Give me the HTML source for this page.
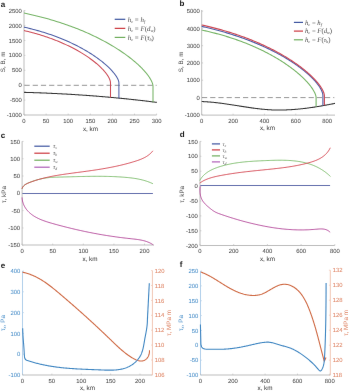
<!DOCTYPE html>
<html><head><meta charset="utf-8"><style>
html,body{margin:0;padding:0;background:#fff;overflow:hidden;}
svg{display:block;will-change:transform;text-rendering:geometricPrecision;font-family:"Liberation Sans",sans-serif;}
</style></head><body>
<svg width="350" height="391" viewBox="0 0 350 391">
<defs><filter id="bl" x="-5%" y="-5%" width="110%" height="110%"><feConvolveMatrix order="3" kernelMatrix="0.00087 0.02776 0.00087 0.02776 0.88549 0.02776 0.00087 0.02776 0.00087" edgeMode="none" preserveAlpha="false"/></filter></defs>
<rect width="350" height="391" fill="#fff"/>
<g filter="url(#bl)" stroke-linecap="butt">
<text x="0.80" y="6.50" font-size="8.0" font-weight="bold" fill="#1a1a1a">a</text>
<line x1="24.00" y1="10.40" x2="24.00" y2="115.00" stroke="#bdbdbd" stroke-width="1.00"/>
<line x1="24.00" y1="115.00" x2="156.60" y2="115.00" stroke="#bdbdbd" stroke-width="1.00"/>
<line x1="24.00" y1="10.62" x2="25.40" y2="10.62" stroke="#bdbdbd" stroke-width="0.70"/>
<text x="21.90" y="12.72" text-anchor="end" font-size="5.90" fill="#484848" stroke="#484848" stroke-width="0.05" >2500</text>
<line x1="24.00" y1="25.54" x2="25.40" y2="25.54" stroke="#bdbdbd" stroke-width="0.70"/>
<text x="21.90" y="27.64" text-anchor="end" font-size="5.90" fill="#484848" stroke="#484848" stroke-width="0.05" >2000</text>
<line x1="24.00" y1="40.46" x2="25.40" y2="40.46" stroke="#bdbdbd" stroke-width="0.70"/>
<text x="21.90" y="42.56" text-anchor="end" font-size="5.90" fill="#484848" stroke="#484848" stroke-width="0.05" >1500</text>
<line x1="24.00" y1="55.37" x2="25.40" y2="55.37" stroke="#bdbdbd" stroke-width="0.70"/>
<text x="21.90" y="57.47" text-anchor="end" font-size="5.90" fill="#484848" stroke="#484848" stroke-width="0.05" >1000</text>
<line x1="24.00" y1="70.28" x2="25.40" y2="70.28" stroke="#bdbdbd" stroke-width="0.70"/>
<text x="21.90" y="72.38" text-anchor="end" font-size="5.90" fill="#484848" stroke="#484848" stroke-width="0.05" >500</text>
<line x1="24.00" y1="85.20" x2="25.40" y2="85.20" stroke="#bdbdbd" stroke-width="0.70"/>
<text x="21.90" y="87.30" text-anchor="end" font-size="5.90" fill="#484848" stroke="#484848" stroke-width="0.05" >0</text>
<line x1="24.00" y1="100.12" x2="25.40" y2="100.12" stroke="#bdbdbd" stroke-width="0.70"/>
<text x="21.90" y="102.22" text-anchor="end" font-size="5.90" fill="#484848" stroke="#484848" stroke-width="0.05" >-500</text>
<line x1="24.00" y1="115.03" x2="25.40" y2="115.03" stroke="#bdbdbd" stroke-width="0.70"/>
<text x="21.90" y="117.13" text-anchor="end" font-size="5.90" fill="#484848" stroke="#484848" stroke-width="0.05" >-1000</text>
<line x1="24.00" y1="113.60" x2="24.00" y2="115.00" stroke="#bdbdbd" stroke-width="0.70"/>
<text x="24.00" y="122.60" text-anchor="middle" font-size="5.90" fill="#484848" stroke="#484848" stroke-width="0.05" >0</text>
<line x1="46.11" y1="113.60" x2="46.11" y2="115.00" stroke="#bdbdbd" stroke-width="0.70"/>
<text x="46.11" y="122.60" text-anchor="middle" font-size="5.90" fill="#484848" stroke="#484848" stroke-width="0.05" >50</text>
<line x1="68.21" y1="113.60" x2="68.21" y2="115.00" stroke="#bdbdbd" stroke-width="0.70"/>
<text x="68.21" y="122.60" text-anchor="middle" font-size="5.90" fill="#484848" stroke="#484848" stroke-width="0.05" >100</text>
<line x1="90.31" y1="113.60" x2="90.31" y2="115.00" stroke="#bdbdbd" stroke-width="0.70"/>
<text x="90.31" y="122.60" text-anchor="middle" font-size="5.90" fill="#484848" stroke="#484848" stroke-width="0.05" >150</text>
<line x1="112.42" y1="113.60" x2="112.42" y2="115.00" stroke="#bdbdbd" stroke-width="0.70"/>
<text x="112.42" y="122.60" text-anchor="middle" font-size="5.90" fill="#484848" stroke="#484848" stroke-width="0.05" >200</text>
<line x1="134.52" y1="113.60" x2="134.52" y2="115.00" stroke="#bdbdbd" stroke-width="0.70"/>
<text x="134.52" y="122.60" text-anchor="middle" font-size="5.90" fill="#484848" stroke="#484848" stroke-width="0.05" >250</text>
<line x1="156.63" y1="113.60" x2="156.63" y2="115.00" stroke="#bdbdbd" stroke-width="0.70"/>
<text x="156.63" y="122.60" text-anchor="middle" font-size="5.90" fill="#484848" stroke="#484848" stroke-width="0.05" >300</text>
<text x="90.40" y="130.50" text-anchor="middle" font-size="6.30" fill="#484848" stroke="#484848" stroke-width="0.05" >x, km</text>
<text transform="translate(5.00,61.80) rotate(-90)" text-anchor="middle" font-size="6.30" fill="#484848">S, B, m</text>
<line x1="24.50" y1="85.30" x2="156.60" y2="85.30" stroke="#8a8a8a" stroke-width="0.90" stroke-dasharray="5.2 3"/>
<path d="M24.00,92.34 L24.84,92.36 L25.68,92.38 L26.53,92.41 L27.37,92.43 L28.21,92.46 L29.06,92.48 L29.90,92.51 L30.74,92.54 L31.58,92.56 L32.43,92.59 L33.27,92.62 L34.11,92.65 L34.96,92.68 L35.80,92.71 L36.64,92.74 L37.49,92.77 L38.33,92.80 L39.17,92.83 L40.01,92.86 L40.86,92.89 L41.70,92.93 L42.54,92.96 L43.38,92.99 L44.23,93.03 L45.07,93.06 L45.91,93.10 L46.76,93.13 L47.60,93.17 L48.44,93.21 L49.28,93.25 L50.13,93.28 L50.97,93.32 L51.81,93.36 L52.65,93.40 L53.49,93.44 L54.34,93.48 L55.18,93.52 L56.02,93.56 L56.86,93.60 L57.71,93.65 L58.55,93.69 L59.39,93.73 L60.23,93.77 L61.07,93.82 L61.92,93.86 L62.76,93.91 L63.60,93.95 L64.44,94.00 L65.28,94.05 L66.13,94.10 L66.97,94.14 L67.81,94.19 L68.65,94.24 L69.49,94.29 L70.33,94.34 L71.18,94.39 L72.02,94.44 L72.86,94.49 L73.70,94.54 L74.54,94.60 L75.38,94.65 L76.22,94.70 L77.07,94.76 L77.91,94.81 L78.75,94.87 L79.59,94.92 L80.43,94.98 L81.27,95.03 L82.11,95.09 L82.95,95.15 L83.80,95.21 L84.64,95.27 L85.48,95.33 L86.32,95.39 L87.16,95.45 L88.00,95.51 L88.84,95.57 L89.68,95.63 L90.52,95.69 L91.36,95.76 L92.20,95.82 L93.04,95.88 L93.89,95.95 L94.73,96.01 L95.57,96.08 L96.41,96.14 L97.25,96.21 L98.09,96.28 L98.93,96.35 L99.77,96.41 L100.61,96.48 L101.45,96.55 L102.29,96.62 L103.13,96.69 L103.97,96.76 L104.81,96.84 L105.65,96.91 L106.49,96.98 L107.33,97.05 L108.17,97.13 L109.01,97.20 L109.85,97.28 L110.69,97.35 L111.53,97.43 L112.37,97.51 L113.21,97.58 L114.05,97.66 L114.89,97.74 L115.72,97.82 L116.56,97.90 L117.40,97.98 L118.24,98.06 L119.08,98.14 L119.92,98.22 L120.76,98.30 L121.60,98.39 L122.44,98.47 L123.28,98.55 L124.12,98.64 L124.95,98.72 L125.79,98.81 L126.63,98.89 L127.47,98.98 L128.31,99.07 L129.15,99.16 L129.99,99.25 L130.83,99.33 L131.66,99.42 L132.50,99.51 L133.34,99.61 L134.18,99.70 L135.02,99.79 L135.86,99.88 L136.69,99.97 L137.53,100.07 L138.37,100.16 L139.21,100.26 L140.05,100.35 L140.88,100.45 L141.72,100.55 L142.56,100.64 L143.40,100.74 L144.23,100.84 L145.07,100.94 L145.91,101.04 L146.75,101.14 L147.58,101.24 L148.42,101.34 L149.26,101.44 L150.10,101.54 L150.93,101.65 L151.77,101.75 L152.61,101.86 L153.44,101.96 L154.28,102.07 L155.12,102.17 L155.96,102.28 L156.79,102.39" fill="none" stroke="#303030" stroke-width="1.05" stroke-linejoin="round"/>
<path d="M24.00,30.57 L25.45,30.91 L26.88,31.25 L28.31,31.60 L29.72,31.96 L31.12,32.32 L32.50,32.69 L33.88,33.06 L35.24,33.44 L36.59,33.83 L37.93,34.22 L39.25,34.61 L40.57,35.01 L41.87,35.42 L43.16,35.83 L44.43,36.24 L45.70,36.66 L46.95,37.09 L48.19,37.51 L49.42,37.95 L50.63,38.38 L51.84,38.82 L53.03,39.27 L54.21,39.72 L55.37,40.17 L56.53,40.63 L57.67,41.08 L58.80,41.55 L59.92,42.01 L61.02,42.48 L62.12,42.95 L63.20,43.43 L64.27,43.91 L65.32,44.39 L66.37,44.87 L67.40,45.36 L68.42,45.84 L69.43,46.33 L70.42,46.82 L71.41,47.32 L72.38,47.81 L73.34,48.31 L74.28,48.81 L75.22,49.31 L76.14,49.81 L77.05,50.32 L77.95,50.82 L78.83,51.33 L79.71,51.83 L80.57,52.34 L81.42,52.85 L82.26,53.36 L83.08,53.87 L83.89,54.37 L84.69,54.88 L85.48,55.39 L86.26,55.90 L87.02,56.41 L87.77,56.92 L88.51,57.43 L89.24,57.94 L89.95,58.45 L90.65,58.96 L91.34,59.46 L92.02,59.97 L92.69,60.47 L93.34,60.98 L93.98,61.48 L94.61,61.98 L95.23,62.48 L95.83,62.98 L96.43,63.47 L97.01,63.97 L97.57,64.46 L98.13,64.95 L98.67,65.44 L99.21,65.92 L99.72,66.41 L100.23,66.89 L100.73,67.36 L101.21,67.84 L101.68,68.31 L102.14,68.78 L102.58,69.25 L103.02,69.71 L103.44,70.17 L103.85,70.63 L104.25,71.08 L104.63,71.53 L105.00,71.97 L105.36,72.42 L105.71,72.85 L106.05,73.29 L106.37,73.72 L106.68,74.14 L106.98,74.56 L107.27,74.98 L107.54,75.39 L107.81,75.79 L108.06,76.19 L108.29,76.59 L108.52,76.98 L108.73,77.37 L108.94,77.75 L109.13,78.12 L109.30,78.49 L109.47,78.85 L109.62,79.21 L109.76,79.56 L109.89,79.91 L110.01,80.25 L110.11,80.58 L110.20,80.91 L110.28,81.23 L110.35,81.54 L110.40,81.84 L110.45,82.14 L110.48,82.44 L110.49,82.72 L110.50,83.00 L110.50,97.40" fill="none" stroke="#cc4a55" stroke-width="1.05" stroke-linejoin="round" />
<path d="M24.00,27.13 L25.59,27.50 L27.16,27.86 L28.72,28.24 L30.27,28.62 L31.81,29.01 L33.33,29.40 L34.84,29.80 L36.33,30.21 L37.81,30.63 L39.28,31.05 L40.73,31.47 L42.17,31.90 L43.60,32.34 L45.02,32.79 L46.42,33.23 L47.80,33.69 L49.18,34.15 L50.54,34.61 L51.88,35.08 L53.22,35.55 L54.54,36.03 L55.85,36.52 L57.14,37.00 L58.42,37.49 L59.69,37.99 L60.94,38.49 L62.18,38.99 L63.40,39.50 L64.62,40.01 L65.82,40.52 L67.00,41.04 L68.18,41.56 L69.34,42.08 L70.48,42.61 L71.61,43.14 L72.73,43.67 L73.84,44.20 L74.93,44.74 L76.01,45.27 L77.08,45.81 L78.13,46.36 L79.17,46.90 L80.19,47.44 L81.20,47.99 L82.20,48.54 L83.19,49.09 L84.16,49.64 L85.12,50.19 L86.06,50.74 L86.99,51.29 L87.91,51.84 L88.82,52.40 L89.71,52.95 L90.59,53.50 L91.45,54.06 L92.30,54.61 L93.14,55.16 L93.96,55.71 L94.77,56.26 L95.57,56.82 L96.36,57.37 L97.13,57.91 L97.88,58.46 L98.63,59.01 L99.36,59.55 L100.08,60.10 L100.78,60.64 L101.47,61.18 L102.15,61.71 L102.81,62.25 L103.46,62.78 L104.10,63.31 L104.72,63.84 L105.33,64.37 L105.93,64.89 L106.51,65.41 L107.08,65.93 L107.63,66.44 L108.18,66.95 L108.71,67.46 L109.22,67.96 L109.73,68.46 L110.21,68.95 L110.69,69.44 L111.15,69.93 L111.60,70.41 L112.04,70.89 L112.46,71.36 L112.87,71.83 L113.26,72.30 L113.65,72.76 L114.01,73.21 L114.37,73.66 L114.71,74.10 L115.04,74.54 L115.35,74.97 L115.66,75.39 L115.94,75.81 L116.22,76.23 L116.48,76.64 L116.73,77.04 L116.96,77.43 L117.18,77.82 L117.39,78.20 L117.59,78.57 L117.77,78.94 L117.93,79.30 L118.09,79.65 L118.23,80.00 L118.36,80.33 L118.47,80.66 L118.57,80.98 L118.66,81.30 L118.73,81.60 L118.79,81.90 L118.84,82.19 L118.87,82.47 L118.89,82.74 L118.90,83.00 L118.90,98.30" fill="none" stroke="#4d5fa6" stroke-width="1.05" stroke-linejoin="round" />
<path d="M24.00,13.07 L26.16,13.52 L28.30,13.98 L30.42,14.45 L32.53,14.93 L34.61,15.42 L36.68,15.92 L38.73,16.43 L40.76,16.94 L42.77,17.47 L44.77,18.00 L46.75,18.55 L48.71,19.10 L50.65,19.65 L52.57,20.22 L54.47,20.79 L56.36,21.38 L58.22,21.96 L60.07,22.56 L61.90,23.16 L63.72,23.77 L65.51,24.39 L67.29,25.01 L69.05,25.64 L70.79,26.27 L72.51,26.91 L74.21,27.55 L75.90,28.20 L77.56,28.86 L79.21,29.52 L80.84,30.19 L82.46,30.86 L84.05,31.53 L85.63,32.21 L87.18,32.89 L88.72,33.58 L90.24,34.27 L91.75,34.97 L93.23,35.66 L94.70,36.37 L96.15,37.07 L97.58,37.78 L98.99,38.49 L100.38,39.20 L101.76,39.91 L103.12,40.63 L104.46,41.35 L105.78,42.07 L107.08,42.79 L108.36,43.51 L109.63,44.23 L110.88,44.96 L112.11,45.68 L113.32,46.41 L114.51,47.14 L115.69,47.86 L116.84,48.59 L117.98,49.32 L119.10,50.05 L120.21,50.77 L121.29,51.50 L122.36,52.22 L123.40,52.95 L124.43,53.67 L125.44,54.39 L126.44,55.11 L127.41,55.83 L128.37,56.54 L129.31,57.26 L130.23,57.97 L131.13,58.68 L132.01,59.38 L132.88,60.08 L133.72,60.78 L134.55,61.48 L135.36,62.17 L136.16,62.86 L136.93,63.55 L137.69,64.23 L138.42,64.91 L139.14,65.58 L139.85,66.25 L140.53,66.92 L141.19,67.58 L141.84,68.23 L142.47,68.88 L143.08,69.52 L143.67,70.16 L144.25,70.79 L144.80,71.42 L145.34,72.04 L145.86,72.65 L146.36,73.26 L146.84,73.86 L147.31,74.45 L147.75,75.04 L148.18,75.62 L148.59,76.19 L148.98,76.75 L149.36,77.31 L149.71,77.86 L150.05,78.40 L150.37,78.93 L150.67,79.45 L150.95,79.97 L151.21,80.47 L151.46,80.97 L151.69,81.45 L151.90,81.93 L152.09,82.40 L152.26,82.86 L152.42,83.30 L152.55,83.74 L152.67,84.17 L152.77,84.58 L152.85,84.99 L152.92,85.38 L152.96,85.77 L152.99,86.14 L153.00,86.50 L153.00,102.20" fill="none" stroke="#76b466" stroke-width="1.05" stroke-linejoin="round" />
<line x1="114.70" y1="19.30" x2="125.30" y2="19.30" stroke="#3f55a0" stroke-width="1.20"/>
<text x="127.8" y="21.50" font-family="Liberation Serif, serif" font-size="6.9" fill="#4a4a4a"><tspan font-style="italic">h</tspan><tspan font-size="4.2" dy="1.1" font-style="italic">c</tspan><tspan dy="-1.1"> = </tspan><tspan font-style="italic">h</tspan><tspan font-size="4.2" dy="1.1" font-style="italic">f</tspan></text>
<line x1="114.70" y1="28.35" x2="125.30" y2="28.35" stroke="#cc3a40" stroke-width="1.20"/>
<text x="127.8" y="30.55" font-family="Liberation Serif, serif" font-size="6.9" fill="#4a4a4a"><tspan font-style="italic">h</tspan><tspan font-size="4.2" dy="1.1" font-style="italic">c</tspan><tspan dy="-1.1"> = </tspan><tspan font-style="italic">F</tspan>(<tspan font-style="italic">d</tspan><tspan font-size="4.2" dy="1.1" font-style="italic">w</tspan><tspan dy="-1.1">)</tspan></text>
<line x1="114.70" y1="37.40" x2="125.30" y2="37.40" stroke="#6fae5c" stroke-width="1.20"/>
<text x="127.8" y="39.60" font-family="Liberation Serif, serif" font-size="6.9" fill="#4a4a4a"><tspan font-style="italic">h</tspan><tspan font-size="4.2" dy="1.1" font-style="italic">c</tspan><tspan dy="-1.1"> = </tspan><tspan font-style="italic">F</tspan>(<tspan font-style="italic">τ</tspan><tspan font-size="4.2" dy="1.1" font-style="italic">b</tspan><tspan dy="-1.1">)</tspan></text>
<text x="179.60" y="6.00" font-size="8.0" font-weight="bold" fill="#1a1a1a">b</text>
<line x1="201.70" y1="10.00" x2="201.70" y2="115.10" stroke="#bdbdbd" stroke-width="1.00"/>
<line x1="201.70" y1="115.10" x2="335.00" y2="115.10" stroke="#bdbdbd" stroke-width="1.00"/>
<line x1="201.70" y1="11.15" x2="203.10" y2="11.15" stroke="#bdbdbd" stroke-width="0.70"/>
<text x="199.80" y="13.25" text-anchor="end" font-size="5.90" fill="#484848" stroke="#484848" stroke-width="0.05" >5000</text>
<line x1="201.70" y1="28.42" x2="203.10" y2="28.42" stroke="#bdbdbd" stroke-width="0.70"/>
<text x="199.80" y="30.52" text-anchor="end" font-size="5.90" fill="#484848" stroke="#484848" stroke-width="0.05" >4000</text>
<line x1="201.70" y1="45.69" x2="203.10" y2="45.69" stroke="#bdbdbd" stroke-width="0.70"/>
<text x="199.80" y="47.79" text-anchor="end" font-size="5.90" fill="#484848" stroke="#484848" stroke-width="0.05" >3000</text>
<line x1="201.70" y1="62.96" x2="203.10" y2="62.96" stroke="#bdbdbd" stroke-width="0.70"/>
<text x="199.80" y="65.06" text-anchor="end" font-size="5.90" fill="#484848" stroke="#484848" stroke-width="0.05" >2000</text>
<line x1="201.70" y1="80.23" x2="203.10" y2="80.23" stroke="#bdbdbd" stroke-width="0.70"/>
<text x="199.80" y="82.33" text-anchor="end" font-size="5.90" fill="#484848" stroke="#484848" stroke-width="0.05" >1000</text>
<line x1="201.70" y1="97.50" x2="203.10" y2="97.50" stroke="#bdbdbd" stroke-width="0.70"/>
<text x="199.80" y="99.60" text-anchor="end" font-size="5.90" fill="#484848" stroke="#484848" stroke-width="0.05" >0</text>
<line x1="201.70" y1="114.77" x2="203.10" y2="114.77" stroke="#bdbdbd" stroke-width="0.70"/>
<text x="199.80" y="116.87" text-anchor="end" font-size="5.90" fill="#484848" stroke="#484848" stroke-width="0.05" >-1000</text>
<line x1="201.70" y1="113.70" x2="201.70" y2="115.10" stroke="#bdbdbd" stroke-width="0.70"/>
<text x="201.70" y="122.90" text-anchor="middle" font-size="5.90" fill="#484848" stroke="#484848" stroke-width="0.05" >0</text>
<line x1="233.06" y1="113.70" x2="233.06" y2="115.10" stroke="#bdbdbd" stroke-width="0.70"/>
<text x="233.06" y="122.90" text-anchor="middle" font-size="5.90" fill="#484848" stroke="#484848" stroke-width="0.05" >200</text>
<line x1="264.42" y1="113.70" x2="264.42" y2="115.10" stroke="#bdbdbd" stroke-width="0.70"/>
<text x="264.42" y="122.90" text-anchor="middle" font-size="5.90" fill="#484848" stroke="#484848" stroke-width="0.05" >400</text>
<line x1="295.78" y1="113.70" x2="295.78" y2="115.10" stroke="#bdbdbd" stroke-width="0.70"/>
<text x="295.78" y="122.90" text-anchor="middle" font-size="5.90" fill="#484848" stroke="#484848" stroke-width="0.05" >600</text>
<line x1="327.14" y1="113.70" x2="327.14" y2="115.10" stroke="#bdbdbd" stroke-width="0.70"/>
<text x="327.14" y="122.90" text-anchor="middle" font-size="5.90" fill="#484848" stroke="#484848" stroke-width="0.05" >800</text>
<text x="267.50" y="130.30" text-anchor="middle" font-size="6.30" fill="#484848" stroke="#484848" stroke-width="0.05" >x, km</text>
<text transform="translate(182.60,61.80) rotate(-90)" text-anchor="middle" font-size="6.30" fill="#484848">S, B, m</text>
<line x1="202.00" y1="97.60" x2="334.30" y2="97.60" stroke="#8a8a8a" stroke-width="0.90" stroke-dasharray="5.2 3"/>
<path d="M201.73,101.58 L202.56,101.60 L203.40,101.63 L204.23,101.67 L205.07,101.71 L205.90,101.76 L206.74,101.81 L207.58,101.86 L208.41,101.92 L209.24,101.98 L210.08,102.05 L210.91,102.12 L211.75,102.19 L212.58,102.27 L213.42,102.35 L214.25,102.44 L215.08,102.52 L215.92,102.61 L216.75,102.71 L217.58,102.80 L218.42,102.90 L219.25,103.01 L220.08,103.11 L220.92,103.22 L221.75,103.33 L222.58,103.44 L223.41,103.56 L224.25,103.67 L225.08,103.79 L225.91,103.91 L226.74,104.03 L227.58,104.15 L228.41,104.28 L229.24,104.40 L230.07,104.53 L230.90,104.66 L231.74,104.79 L232.57,104.92 L233.40,105.05 L234.23,105.18 L235.06,105.31 L235.89,105.44 L236.73,105.58 L237.56,105.71 L238.39,105.84 L239.22,105.97 L240.05,106.11 L240.88,106.24 L241.71,106.37 L242.55,106.50 L243.38,106.63 L244.21,106.76 L245.04,106.89 L245.87,107.02 L246.70,107.14 L247.54,107.27 L248.37,107.39 L249.20,107.52 L250.03,107.64 L250.86,107.76 L251.69,107.88 L252.53,107.99 L253.36,108.11 L254.19,108.22 L255.02,108.33 L255.85,108.43 L256.69,108.54 L257.52,108.64 L258.35,108.74 L259.18,108.84 L260.02,108.93 L260.85,109.02 L261.68,109.11 L262.51,109.19 L263.35,109.27 L264.18,109.35 L265.01,109.42 L265.85,109.49 L266.68,109.56 L267.51,109.62 L268.35,109.68 L269.18,109.73 L270.01,109.78 L270.85,109.82 L271.68,109.87 L272.52,109.90 L273.35,109.93 L274.19,109.96 L275.02,109.98 L275.86,110.00 L276.69,110.02 L277.53,110.03 L278.36,110.03 L279.20,110.04 L280.03,110.04 L280.87,110.03 L281.70,110.02 L282.54,110.01 L283.37,109.99 L284.21,109.97 L285.05,109.95 L285.88,109.92 L286.72,109.89 L287.55,109.85 L288.39,109.82 L289.22,109.77 L290.06,109.73 L290.90,109.68 L291.73,109.63 L292.57,109.57 L293.40,109.51 L294.24,109.45 L295.07,109.39 L295.91,109.32 L296.74,109.25 L297.58,109.17 L298.42,109.09 L299.25,109.01 L300.09,108.93 L300.92,108.84 L301.76,108.75 L302.59,108.66 L303.43,108.57 L304.26,108.47 L305.09,108.37 L305.93,108.27 L306.76,108.16 L307.60,108.06 L308.43,107.95 L309.26,107.83 L310.10,107.72 L310.93,107.60 L311.77,107.48 L312.60,107.36 L313.43,107.24 L314.26,107.11 L315.10,106.98 L315.93,106.85 L316.76,106.72 L317.59,106.58 L318.42,106.45 L319.26,106.31 L320.09,106.17 L320.92,106.03 L321.75,105.88 L322.58,105.74 L323.41,105.59 L324.24,105.44 L325.07,105.29 L325.90,105.14 L326.73,104.98 L327.56,104.83 L328.38,104.67 L329.21,104.51 L330.04,104.35 L330.87,104.19 L331.70,104.03 L332.52,103.87 L333.35,103.70 L334.17,103.54 L335.00,103.37" fill="none" stroke="#303030" stroke-width="1.05" stroke-linejoin="round"/>
<path d="M201.70,30.05 L203.61,30.46 L205.51,30.89 L207.40,31.32 L209.26,31.75 L211.11,32.20 L212.95,32.66 L214.76,33.12 L216.56,33.60 L218.35,34.08 L220.12,34.57 L221.87,35.07 L223.61,35.57 L225.33,36.09 L227.03,36.61 L228.72,37.14 L230.39,37.67 L232.05,38.21 L233.69,38.76 L235.31,39.31 L236.92,39.88 L238.51,40.44 L240.09,41.02 L241.65,41.59 L243.19,42.18 L244.72,42.77 L246.23,43.36 L247.72,43.96 L249.20,44.57 L250.66,45.18 L252.11,45.79 L253.54,46.41 L254.95,47.04 L256.35,47.66 L257.73,48.30 L259.10,48.93 L260.45,49.57 L261.78,50.21 L263.10,50.86 L264.40,51.50 L265.68,52.16 L266.95,52.81 L268.20,53.47 L269.44,54.12 L270.66,54.79 L271.86,55.45 L273.05,56.11 L274.22,56.78 L275.38,57.45 L276.52,58.12 L277.64,58.79 L278.74,59.46 L279.84,60.13 L280.91,60.80 L281.97,61.47 L283.01,62.15 L284.04,62.82 L285.05,63.50 L286.04,64.17 L287.02,64.84 L287.98,65.51 L288.92,66.18 L289.85,66.85 L290.77,67.52 L291.66,68.19 L292.54,68.86 L293.41,69.52 L294.26,70.19 L295.09,70.85 L295.90,71.51 L296.70,72.16 L297.49,72.82 L298.25,73.47 L299.01,74.12 L299.74,74.76 L300.46,75.41 L301.16,76.04 L301.85,76.68 L302.52,77.31 L303.17,77.94 L303.81,78.56 L304.43,79.18 L305.04,79.80 L305.63,80.41 L306.20,81.02 L306.76,81.62 L307.30,82.21 L307.83,82.80 L308.34,83.39 L308.83,83.97 L309.31,84.54 L309.77,85.11 L310.21,85.67 L310.64,86.23 L311.05,86.78 L311.45,87.32 L311.83,87.86 L312.19,88.38 L312.54,88.91 L312.87,89.42 L313.18,89.93 L313.48,90.43 L313.77,90.92 L314.03,91.40 L314.28,91.88 L314.52,92.34 L314.73,92.80 L314.94,93.25 L315.12,93.69 L315.29,94.12 L315.45,94.54 L315.58,94.96 L315.70,95.36 L315.81,95.75 L315.90,96.14 L315.97,96.51 L316.03,96.87 L316.07,97.23 L316.09,97.57 L316.10,97.90 L316.10,106.40" fill="none" stroke="#76b466" stroke-width="1.10" stroke-linejoin="round" />
<path d="M201.70,26.40 L203.73,26.85 L205.74,27.31 L207.73,27.78 L209.71,28.25 L211.67,28.74 L213.61,29.23 L215.54,29.73 L217.45,30.23 L219.34,30.74 L221.21,31.26 L223.07,31.79 L224.91,32.32 L226.73,32.86 L228.54,33.40 L230.33,33.96 L232.10,34.51 L233.86,35.08 L235.59,35.65 L237.31,36.22 L239.02,36.80 L240.70,37.38 L242.37,37.97 L244.02,38.57 L245.66,39.17 L247.28,39.77 L248.88,40.38 L250.46,41.00 L252.03,41.61 L253.57,42.24 L255.11,42.86 L256.62,43.49 L258.12,44.12 L259.60,44.76 L261.06,45.40 L262.51,46.04 L263.94,46.69 L265.35,47.33 L266.75,47.99 L268.12,48.64 L269.49,49.29 L270.83,49.95 L272.16,50.61 L273.46,51.28 L274.76,51.94 L276.03,52.60 L277.29,53.27 L278.53,53.94 L279.76,54.61 L280.96,55.28 L282.15,55.95 L283.32,56.62 L284.48,57.30 L285.62,57.97 L286.74,58.64 L287.84,59.32 L288.93,59.99 L290.00,60.66 L291.05,61.34 L292.09,62.01 L293.11,62.68 L294.11,63.35 L295.09,64.02 L296.06,64.69 L297.01,65.36 L297.94,66.03 L298.86,66.69 L299.76,67.36 L300.64,68.02 L301.50,68.68 L302.35,69.33 L303.18,69.99 L303.99,70.64 L304.79,71.29 L305.57,71.94 L306.33,72.58 L307.07,73.22 L307.80,73.86 L308.51,74.50 L309.21,75.13 L309.88,75.76 L310.54,76.38 L311.18,77.00 L311.81,77.62 L312.42,78.23 L313.01,78.84 L313.58,79.44 L314.14,80.04 L314.68,80.63 L315.20,81.22 L315.70,81.80 L316.19,82.38 L316.66,82.95 L317.11,83.52 L317.55,84.08 L317.97,84.63 L318.37,85.18 L318.76,85.73 L319.13,86.26 L319.48,86.79 L319.81,87.32 L320.13,87.83 L320.43,88.34 L320.71,88.85 L320.97,89.34 L321.22,89.83 L321.45,90.31 L321.67,90.78 L321.86,91.25 L322.04,91.70 L322.21,92.15 L322.35,92.59 L322.48,93.03 L322.59,93.45 L322.69,93.86 L322.76,94.27 L322.82,94.67 L322.87,95.05 L322.89,95.43 L322.90,95.80 L322.90,105.40" fill="none" stroke="#4d5fa6" stroke-width="1.15" stroke-linejoin="round" />
<path d="M201.70,24.96 L203.75,25.42 L205.79,25.88 L207.81,26.35 L209.81,26.83 L211.79,27.32 L213.76,27.82 L215.71,28.33 L217.64,28.84 L219.56,29.36 L221.46,29.89 L223.34,30.43 L225.20,30.98 L227.04,31.53 L228.87,32.09 L230.68,32.65 L232.48,33.22 L234.25,33.80 L236.01,34.39 L237.75,34.98 L239.48,35.58 L241.18,36.18 L242.87,36.79 L244.55,37.40 L246.20,38.02 L247.84,38.65 L249.46,39.28 L251.06,39.91 L252.65,40.55 L254.22,41.19 L255.77,41.84 L257.30,42.49 L258.82,43.15 L260.32,43.81 L261.80,44.47 L263.26,45.13 L264.71,45.80 L266.14,46.48 L267.55,47.15 L268.95,47.83 L270.32,48.51 L271.68,49.20 L273.03,49.88 L274.35,50.57 L275.66,51.26 L276.95,51.95 L278.23,52.64 L279.48,53.34 L280.72,54.03 L281.94,54.73 L283.15,55.43 L284.33,56.13 L285.50,56.82 L286.66,57.52 L287.79,58.22 L288.91,58.92 L290.01,59.62 L291.09,60.32 L292.16,61.02 L293.21,61.72 L294.24,62.42 L295.25,63.11 L296.25,63.81 L297.23,64.50 L298.19,65.19 L299.13,65.88 L300.06,66.57 L300.97,67.26 L301.86,67.95 L302.74,68.63 L303.60,69.31 L304.44,69.99 L305.26,70.66 L306.07,71.33 L306.85,72.00 L307.63,72.67 L308.38,73.33 L309.12,73.99 L309.83,74.64 L310.54,75.29 L311.22,75.94 L311.89,76.58 L312.54,77.22 L313.17,77.85 L313.79,78.48 L314.38,79.10 L314.96,79.72 L315.53,80.33 L316.07,80.94 L316.60,81.54 L317.11,82.13 L317.61,82.72 L318.08,83.31 L318.54,83.88 L318.98,84.45 L319.41,85.02 L319.82,85.57 L320.21,86.12 L320.58,86.67 L320.93,87.20 L321.27,87.73 L321.59,88.25 L321.90,88.76 L322.18,89.27 L322.45,89.76 L322.70,90.25 L322.94,90.73 L323.15,91.20 L323.35,91.66 L323.53,92.11 L323.70,92.56 L323.85,92.99 L323.98,93.41 L324.09,93.83 L324.18,94.23 L324.26,94.63 L324.32,95.01 L324.37,95.38 L324.39,95.75 L324.40,96.10 L324.40,105.20" fill="none" stroke="#cc4a55" stroke-width="1.15" stroke-linejoin="round" />
<line x1="293.90" y1="22.40" x2="303.00" y2="22.40" stroke="#3f55a0" stroke-width="1.20"/>
<text x="305.0" y="24.60" font-family="Liberation Serif, serif" font-size="6.7" fill="#4a4a4a"><tspan font-style="italic">h</tspan><tspan font-size="4.2" dy="1.1" font-style="italic">c</tspan><tspan dy="-1.1"> = </tspan><tspan font-style="italic">h</tspan><tspan font-size="4.2" dy="1.1" font-style="italic">f</tspan></text>
<line x1="293.90" y1="31.10" x2="303.00" y2="31.10" stroke="#cc3a40" stroke-width="1.20"/>
<text x="305.0" y="33.30" font-family="Liberation Serif, serif" font-size="6.7" fill="#4a4a4a"><tspan font-style="italic">h</tspan><tspan font-size="4.2" dy="1.1" font-style="italic">c</tspan><tspan dy="-1.1"> = </tspan><tspan font-style="italic">F</tspan>(<tspan font-style="italic">d</tspan><tspan font-size="4.2" dy="1.1" font-style="italic">w</tspan><tspan dy="-1.1">)</tspan></text>
<line x1="293.90" y1="39.80" x2="303.00" y2="39.80" stroke="#6fae5c" stroke-width="1.20"/>
<text x="305.0" y="42.00" font-family="Liberation Serif, serif" font-size="6.7" fill="#4a4a4a"><tspan font-style="italic">h</tspan><tspan font-size="4.2" dy="1.1" font-style="italic">c</tspan><tspan dy="-1.1"> = </tspan><tspan font-style="italic">F</tspan>(<tspan font-style="italic">τ</tspan><tspan font-size="4.2" dy="1.1" font-style="italic">b</tspan><tspan dy="-1.1">)</tspan></text>
<text x="0.80" y="137.50" font-size="8.0" font-weight="bold" fill="#1a1a1a">c</text>
<line x1="22.10" y1="141.30" x2="22.10" y2="245.00" stroke="#bdbdbd" stroke-width="1.00"/>
<line x1="22.10" y1="245.00" x2="154.00" y2="245.00" stroke="#bdbdbd" stroke-width="1.00"/>
<line x1="22.10" y1="141.41" x2="23.50" y2="141.41" stroke="#bdbdbd" stroke-width="0.70"/>
<text x="20.00" y="143.50" text-anchor="end" font-size="5.90" fill="#484848" stroke="#484848" stroke-width="0.05" >150</text>
<line x1="22.10" y1="158.72" x2="23.50" y2="158.72" stroke="#bdbdbd" stroke-width="0.70"/>
<text x="20.00" y="160.82" text-anchor="end" font-size="5.90" fill="#484848" stroke="#484848" stroke-width="0.05" >100</text>
<line x1="22.10" y1="176.03" x2="23.50" y2="176.03" stroke="#bdbdbd" stroke-width="0.70"/>
<text x="20.00" y="178.13" text-anchor="end" font-size="5.90" fill="#484848" stroke="#484848" stroke-width="0.05" >50</text>
<line x1="22.10" y1="193.35" x2="23.50" y2="193.35" stroke="#bdbdbd" stroke-width="0.70"/>
<text x="20.00" y="195.45" text-anchor="end" font-size="5.90" fill="#484848" stroke="#484848" stroke-width="0.05" >0</text>
<line x1="22.10" y1="210.66" x2="23.50" y2="210.66" stroke="#bdbdbd" stroke-width="0.70"/>
<text x="20.00" y="212.76" text-anchor="end" font-size="5.90" fill="#484848" stroke="#484848" stroke-width="0.05" >-50</text>
<line x1="22.10" y1="227.98" x2="23.50" y2="227.98" stroke="#bdbdbd" stroke-width="0.70"/>
<text x="20.00" y="230.08" text-anchor="end" font-size="5.90" fill="#484848" stroke="#484848" stroke-width="0.05" >-100</text>
<line x1="22.10" y1="245.29" x2="23.50" y2="245.29" stroke="#bdbdbd" stroke-width="0.70"/>
<text x="20.00" y="247.39" text-anchor="end" font-size="5.90" fill="#484848" stroke="#484848" stroke-width="0.05" >-150</text>
<line x1="22.10" y1="243.60" x2="22.10" y2="245.00" stroke="#bdbdbd" stroke-width="0.70"/>
<text x="22.10" y="252.70" text-anchor="middle" font-size="5.90" fill="#484848" stroke="#484848" stroke-width="0.05" >0</text>
<line x1="52.70" y1="243.60" x2="52.70" y2="245.00" stroke="#bdbdbd" stroke-width="0.70"/>
<text x="52.70" y="252.70" text-anchor="middle" font-size="5.90" fill="#484848" stroke="#484848" stroke-width="0.05" >50</text>
<line x1="83.30" y1="243.60" x2="83.30" y2="245.00" stroke="#bdbdbd" stroke-width="0.70"/>
<text x="83.30" y="252.70" text-anchor="middle" font-size="5.90" fill="#484848" stroke="#484848" stroke-width="0.05" >100</text>
<line x1="113.90" y1="243.60" x2="113.90" y2="245.00" stroke="#bdbdbd" stroke-width="0.70"/>
<text x="113.90" y="252.70" text-anchor="middle" font-size="5.90" fill="#484848" stroke="#484848" stroke-width="0.05" >150</text>
<line x1="144.50" y1="243.60" x2="144.50" y2="245.00" stroke="#bdbdbd" stroke-width="0.70"/>
<text x="144.50" y="252.70" text-anchor="middle" font-size="5.90" fill="#484848" stroke="#484848" stroke-width="0.05" >200</text>
<text x="89.90" y="260.60" text-anchor="middle" font-size="6.30" fill="#484848" stroke="#484848" stroke-width="0.05" >x, km</text>
<text transform="translate(5.80,194.50) rotate(-90)" text-anchor="middle" font-size="6.30" fill="#484848">τ, kPa</text>
<line x1="22.40" y1="193.50" x2="152.90" y2="193.50" stroke="#6570ad" stroke-width="1.00"/>
<path d="M22.11,188.79 L22.38,187.99 L22.72,187.25 L23.13,186.58 L23.61,185.98 L24.14,185.42 L24.73,184.92 L25.37,184.46 L26.04,184.04 L26.75,183.65 L27.49,183.29 L28.25,182.95 L29.02,182.62 L29.80,182.31 L30.59,182.00 L31.38,181.70 L32.18,181.41 L32.98,181.13 L33.79,180.86 L34.60,180.60 L35.42,180.34 L36.24,180.10 L37.06,179.86 L37.89,179.64 L38.72,179.42 L39.55,179.22 L40.38,179.02 L41.22,178.83 L42.06,178.66 L42.90,178.49 L43.74,178.33 L44.58,178.19 L45.42,178.05 L46.26,177.93 L47.10,177.82 L47.94,177.71 L48.77,177.62 L49.61,177.54 L50.45,177.47 L51.28,177.40 L52.12,177.35 L52.95,177.30 L53.79,177.26 L54.62,177.22 L55.46,177.19 L56.29,177.17 L57.12,177.14 L57.96,177.12 L58.79,177.10 L59.63,177.08 L60.46,177.06 L61.29,177.04 L62.13,177.02 L62.97,177.00 L63.80,176.98 L64.64,176.95 L65.47,176.93 L66.31,176.91 L67.15,176.89 L67.99,176.86 L68.82,176.84 L69.66,176.82 L70.50,176.79 L71.34,176.77 L72.18,176.75 L73.02,176.72 L73.86,176.70 L74.70,176.68 L75.54,176.66 L76.38,176.63 L77.22,176.61 L78.06,176.59 L78.90,176.57 L79.74,176.55 L80.58,176.53 L81.42,176.51 L82.27,176.49 L83.11,176.47 L83.95,176.45 L84.79,176.44 L85.63,176.42 L86.48,176.40 L87.32,176.39 L88.16,176.38 L89.00,176.36 L89.85,176.35 L90.69,176.34 L91.53,176.33 L92.37,176.32 L93.22,176.31 L94.06,176.31 L94.90,176.30 L95.75,176.30 L96.59,176.30 L97.43,176.30 L98.28,176.30 L99.12,176.30 L99.96,176.30 L100.80,176.31 L101.65,176.31 L102.49,176.32 L103.33,176.33 L104.17,176.34 L105.02,176.36 L105.86,176.37 L106.70,176.39 L107.54,176.41 L108.39,176.43 L109.23,176.45 L110.07,176.48 L110.91,176.51 L111.75,176.53 L112.59,176.57 L113.43,176.60 L114.27,176.64 L115.12,176.67 L115.96,176.72 L116.80,176.76 L117.64,176.80 L118.48,176.85 L119.31,176.90 L120.15,176.96 L120.99,177.01 L121.83,177.07 L122.67,177.13 L123.51,177.20 L124.35,177.26 L125.18,177.33 L126.02,177.40 L126.86,177.48 L127.69,177.56 L128.53,177.64 L129.36,177.73 L130.20,177.82 L131.03,177.92 L131.86,178.03 L132.69,178.13 L133.52,178.25 L134.35,178.37 L135.18,178.50 L136.01,178.63 L136.83,178.78 L137.66,178.93 L138.48,179.09 L139.30,179.25 L140.12,179.43 L140.93,179.62 L141.75,179.81 L142.56,180.02 L143.37,180.23 L144.18,180.46 L144.99,180.69 L145.79,180.94 L146.59,181.20 L147.39,181.47 L148.19,181.76 L148.98,182.05 L149.77,182.36 L150.56,182.69 L151.34,183.02 L152.13,183.37 L152.91,183.74" fill="none" stroke="#7fbd6e" stroke-width="1.00" stroke-linejoin="round"/>
<path d="M22.00,188.71 L22.28,187.92 L22.65,187.20 L23.09,186.55 L23.59,185.96 L24.15,185.42 L24.76,184.93 L25.42,184.49 L26.11,184.08 L26.84,183.71 L27.59,183.36 L28.35,183.03 L29.13,182.72 L29.91,182.41 L30.70,182.11 L31.49,181.82 L32.27,181.54 L33.07,181.26 L33.86,180.99 L34.65,180.72 L35.45,180.46 L36.25,180.21 L37.05,179.96 L37.85,179.72 L38.65,179.49 L39.45,179.26 L40.26,179.03 L41.07,178.81 L41.88,178.60 L42.69,178.39 L43.50,178.18 L44.31,177.98 L45.13,177.79 L45.94,177.59 L46.76,177.41 L47.58,177.22 L48.40,177.05 L49.22,176.87 L50.04,176.70 L50.86,176.54 L51.69,176.37 L52.51,176.21 L53.34,176.06 L54.16,175.90 L54.99,175.75 L55.82,175.61 L56.65,175.46 L57.48,175.32 L58.31,175.18 L59.14,175.05 L59.97,174.92 L60.80,174.79 L61.63,174.66 L62.46,174.53 L63.30,174.40 L64.13,174.28 L64.96,174.16 L65.80,174.04 L66.63,173.92 L67.47,173.81 L68.30,173.69 L69.14,173.57 L69.97,173.46 L70.81,173.35 L71.64,173.24 L72.48,173.12 L73.31,173.01 L74.15,172.90 L74.98,172.79 L75.82,172.68 L76.65,172.57 L77.49,172.46 L78.32,172.35 L79.15,172.24 L79.99,172.13 L80.82,172.02 L81.65,171.90 L82.49,171.79 L83.32,171.68 L84.15,171.57 L84.98,171.45 L85.82,171.34 L86.65,171.23 L87.48,171.11 L88.31,171.00 L89.14,170.88 L89.97,170.76 L90.80,170.64 L91.63,170.52 L92.46,170.40 L93.29,170.28 L94.12,170.16 L94.95,170.03 L95.78,169.91 L96.60,169.78 L97.43,169.65 L98.26,169.52 L99.09,169.39 L99.91,169.26 L100.74,169.13 L101.56,168.99 L102.39,168.85 L103.21,168.71 L104.04,168.57 L104.86,168.43 L105.69,168.29 L106.51,168.14 L107.33,167.99 L108.16,167.84 L108.98,167.69 L109.80,167.53 L110.62,167.37 L111.44,167.21 L112.26,167.05 L113.08,166.89 L113.90,166.72 L114.72,166.55 L115.54,166.38 L116.36,166.20 L117.17,166.03 L117.99,165.84 L118.81,165.66 L119.62,165.48 L120.44,165.29 L121.25,165.09 L122.07,164.90 L122.88,164.70 L123.69,164.50 L124.51,164.29 L125.32,164.09 L126.13,163.87 L126.94,163.66 L127.75,163.44 L128.56,163.22 L129.37,163.00 L130.18,162.77 L130.99,162.53 L131.79,162.30 L132.60,162.06 L133.41,161.81 L134.21,161.57 L135.02,161.31 L135.82,161.06 L136.62,160.80 L137.42,160.53 L138.22,160.25 L139.01,159.97 L139.80,159.68 L140.59,159.37 L141.36,159.06 L142.13,158.73 L142.90,158.39 L143.65,158.03 L144.39,157.66 L145.13,157.27 L145.85,156.86 L146.56,156.43 L147.26,155.98 L147.95,155.51 L148.62,155.01 L149.28,154.50 L149.92,153.95 L150.55,153.38 L151.16,152.79 L151.75,152.16 L152.32,151.51 L152.88,150.82" fill="none" stroke="#d44853" stroke-width="1.00" stroke-linejoin="round"/>
<path d="M22.10,197.47 L22.15,198.41 L22.25,199.32 L22.38,200.22 L22.55,201.09 L22.76,201.95 L23.00,202.78 L23.27,203.59 L23.57,204.39 L23.91,205.16 L24.27,205.91 L24.66,206.64 L25.07,207.35 L25.51,208.04 L25.97,208.72 L26.45,209.37 L26.95,210.00 L27.47,210.62 L28.00,211.21 L28.55,211.79 L29.12,212.35 L29.71,212.89 L30.31,213.42 L30.93,213.93 L31.57,214.42 L32.21,214.90 L32.87,215.37 L33.55,215.82 L34.24,216.25 L34.94,216.67 L35.65,217.08 L36.37,217.48 L37.11,217.86 L37.85,218.24 L38.61,218.60 L39.37,218.95 L40.14,219.29 L40.92,219.62 L41.71,219.94 L42.51,220.25 L43.31,220.56 L44.12,220.85 L44.93,221.14 L45.75,221.42 L46.57,221.70 L47.40,221.96 L48.23,222.23 L49.06,222.48 L49.90,222.74 L50.74,222.98 L51.58,223.23 L52.42,223.47 L53.26,223.70 L54.10,223.94 L54.94,224.17 L55.77,224.40 L56.61,224.63 L57.45,224.85 L58.28,225.08 L59.12,225.30 L59.95,225.52 L60.78,225.74 L61.61,225.96 L62.44,226.18 L63.27,226.39 L64.09,226.61 L64.92,226.82 L65.75,227.03 L66.57,227.24 L67.39,227.44 L68.22,227.65 L69.04,227.85 L69.86,228.05 L70.68,228.25 L71.50,228.45 L72.32,228.65 L73.14,228.84 L73.96,229.04 L74.78,229.23 L75.59,229.42 L76.41,229.61 L77.23,229.80 L78.04,229.98 L78.86,230.17 L79.67,230.35 L80.49,230.53 L81.30,230.71 L82.12,230.88 L82.93,231.06 L83.74,231.23 L84.56,231.41 L85.37,231.58 L86.18,231.75 L87.00,231.92 L87.81,232.08 L88.62,232.25 L89.43,232.41 L90.25,232.57 L91.06,232.73 L91.87,232.89 L92.69,233.05 L93.50,233.21 L94.31,233.36 L95.13,233.51 L95.94,233.66 L96.76,233.81 L97.57,233.96 L98.38,234.11 L99.20,234.25 L100.02,234.40 L100.83,234.54 L101.65,234.68 L102.47,234.82 L103.28,234.96 L104.10,235.09 L104.92,235.23 L105.74,235.36 L106.56,235.49 L107.38,235.62 L108.20,235.75 L109.02,235.88 L109.85,236.01 L110.67,236.13 L111.50,236.25 L112.32,236.37 L113.15,236.50 L113.98,236.61 L114.80,236.73 L115.63,236.85 L116.46,236.96 L117.30,237.08 L118.13,237.19 L118.96,237.30 L119.80,237.41 L120.63,237.51 L121.47,237.62 L122.31,237.72 L123.15,237.83 L123.99,237.93 L124.83,238.03 L125.67,238.13 L126.52,238.23 L127.37,238.32 L128.21,238.42 L129.06,238.51 L129.91,238.61 L130.77,238.70 L131.62,238.79 L132.47,238.88 L133.33,238.97 L134.18,239.07 L135.03,239.17 L135.88,239.27 L136.73,239.39 L137.58,239.50 L138.42,239.63 L139.27,239.76 L140.10,239.91 L140.93,240.06 L141.76,240.23 L142.58,240.41 L143.40,240.61 L144.21,240.82 L145.01,241.04 L145.81,241.28 L146.59,241.55 L147.37,241.83 L148.14,242.13 L148.90,242.45 L149.65,242.79 L150.39,243.16 L151.12,243.56 L151.84,243.97 L152.54,244.42 L153.24,244.89" fill="none" stroke="#b44a9a" stroke-width="1.00" stroke-linejoin="round"/>
<line x1="34.30" y1="146.20" x2="49.70" y2="146.20" stroke="#3f55a0" stroke-width="1.20"/>
<text x="53.0" y="148.10" font-family="Liberation Serif, serif" font-style="italic" font-size="6.5" fill="#5a5a5a">τ<tspan font-size="3.8" dy="0.9">x</tspan></text>
<line x1="34.30" y1="153.20" x2="49.70" y2="153.20" stroke="#cc3a40" stroke-width="1.20"/>
<text x="53.0" y="155.10" font-family="Liberation Serif, serif" font-style="italic" font-size="6.5" fill="#5a5a5a">τ<tspan font-size="3.8" dy="0.9">b</tspan></text>
<line x1="34.30" y1="160.20" x2="49.70" y2="160.20" stroke="#6fae5c" stroke-width="1.20"/>
<text x="53.0" y="162.10" font-family="Liberation Serif, serif" font-style="italic" font-size="6.5" fill="#5a5a5a">τ<tspan font-size="3.8" dy="0.9">w</tspan></text>
<line x1="34.30" y1="167.20" x2="49.70" y2="167.20" stroke="#b060b8" stroke-width="1.20"/>
<text x="53.0" y="169.10" font-family="Liberation Serif, serif" font-style="italic" font-size="6.5" fill="#5a5a5a">τ<tspan font-size="3.8" dy="0.9">d</tspan></text>
<text x="179.80" y="136.90" font-size="8.0" font-weight="bold" fill="#1a1a1a">d</text>
<line x1="200.00" y1="141.30" x2="200.00" y2="245.50" stroke="#bdbdbd" stroke-width="1.00"/>
<line x1="200.00" y1="245.50" x2="334.80" y2="245.50" stroke="#bdbdbd" stroke-width="1.00"/>
<line x1="200.00" y1="141.40" x2="201.40" y2="141.40" stroke="#bdbdbd" stroke-width="0.70"/>
<text x="197.90" y="143.50" text-anchor="end" font-size="5.90" fill="#484848" stroke="#484848" stroke-width="0.05" >150</text>
<line x1="200.00" y1="156.30" x2="201.40" y2="156.30" stroke="#bdbdbd" stroke-width="0.70"/>
<text x="197.90" y="158.40" text-anchor="end" font-size="5.90" fill="#484848" stroke="#484848" stroke-width="0.05" >100</text>
<line x1="200.00" y1="171.20" x2="201.40" y2="171.20" stroke="#bdbdbd" stroke-width="0.70"/>
<text x="197.90" y="173.30" text-anchor="end" font-size="5.90" fill="#484848" stroke="#484848" stroke-width="0.05" >50</text>
<line x1="200.00" y1="186.10" x2="201.40" y2="186.10" stroke="#bdbdbd" stroke-width="0.70"/>
<text x="197.90" y="188.20" text-anchor="end" font-size="5.90" fill="#484848" stroke="#484848" stroke-width="0.05" >0</text>
<line x1="200.00" y1="201.00" x2="201.40" y2="201.00" stroke="#bdbdbd" stroke-width="0.70"/>
<text x="197.90" y="203.10" text-anchor="end" font-size="5.90" fill="#484848" stroke="#484848" stroke-width="0.05" >-50</text>
<line x1="200.00" y1="215.90" x2="201.40" y2="215.90" stroke="#bdbdbd" stroke-width="0.70"/>
<text x="197.90" y="218.00" text-anchor="end" font-size="5.90" fill="#484848" stroke="#484848" stroke-width="0.05" >-100</text>
<line x1="200.00" y1="230.80" x2="201.40" y2="230.80" stroke="#bdbdbd" stroke-width="0.70"/>
<text x="197.90" y="232.90" text-anchor="end" font-size="5.90" fill="#484848" stroke="#484848" stroke-width="0.05" >-150</text>
<line x1="200.00" y1="245.70" x2="201.40" y2="245.70" stroke="#bdbdbd" stroke-width="0.70"/>
<text x="197.90" y="247.80" text-anchor="end" font-size="5.90" fill="#484848" stroke="#484848" stroke-width="0.05" >-200</text>
<line x1="200.00" y1="244.10" x2="200.00" y2="245.50" stroke="#bdbdbd" stroke-width="0.70"/>
<text x="200.00" y="253.00" text-anchor="middle" font-size="5.90" fill="#484848" stroke="#484848" stroke-width="0.05" >0</text>
<line x1="233.70" y1="244.10" x2="233.70" y2="245.50" stroke="#bdbdbd" stroke-width="0.70"/>
<text x="233.70" y="253.00" text-anchor="middle" font-size="5.90" fill="#484848" stroke="#484848" stroke-width="0.05" >200</text>
<line x1="267.40" y1="244.10" x2="267.40" y2="245.50" stroke="#bdbdbd" stroke-width="0.70"/>
<text x="267.40" y="253.00" text-anchor="middle" font-size="5.90" fill="#484848" stroke="#484848" stroke-width="0.05" >400</text>
<line x1="301.10" y1="244.10" x2="301.10" y2="245.50" stroke="#bdbdbd" stroke-width="0.70"/>
<text x="301.10" y="253.00" text-anchor="middle" font-size="5.90" fill="#484848" stroke="#484848" stroke-width="0.05" >600</text>
<line x1="334.80" y1="244.10" x2="334.80" y2="245.50" stroke="#bdbdbd" stroke-width="0.70"/>
<text x="334.80" y="253.00" text-anchor="middle" font-size="5.90" fill="#484848" stroke="#484848" stroke-width="0.05" >800</text>
<text x="267.40" y="260.60" text-anchor="middle" font-size="6.30" fill="#484848" stroke="#484848" stroke-width="0.05" >x, km</text>
<text transform="translate(183.60,194.30) rotate(-90)" text-anchor="middle" font-size="6.30" fill="#484848">τ, kPa</text>
<line x1="200.30" y1="185.50" x2="330.10" y2="185.50" stroke="#6570ad" stroke-width="1.00"/>
<path d="M199.77,180.46 L200.20,179.71 L200.67,178.98 L201.15,178.28 L201.65,177.60 L202.18,176.95 L202.72,176.32 L203.28,175.71 L203.87,175.13 L204.46,174.57 L205.08,174.03 L205.71,173.51 L206.36,173.00 L207.02,172.52 L207.70,172.06 L208.39,171.61 L209.09,171.18 L209.80,170.77 L210.53,170.38 L211.26,170.00 L212.01,169.63 L212.76,169.28 L213.52,168.94 L214.29,168.61 L215.06,168.30 L215.85,168.00 L216.63,167.71 L217.42,167.42 L218.22,167.15 L219.01,166.89 L219.81,166.64 L220.61,166.39 L221.42,166.15 L222.22,165.92 L223.02,165.69 L223.83,165.48 L224.64,165.27 L225.45,165.06 L226.26,164.86 L227.07,164.67 L227.88,164.49 L228.69,164.31 L229.51,164.14 L230.32,163.97 L231.14,163.81 L231.96,163.66 L232.77,163.51 L233.59,163.36 L234.42,163.22 L235.24,163.09 L236.06,162.96 L236.89,162.84 L237.71,162.72 L238.54,162.61 L239.36,162.50 L240.19,162.39 L241.02,162.29 L241.85,162.19 L242.68,162.10 L243.52,162.01 L244.35,161.93 L245.18,161.84 L246.02,161.77 L246.85,161.69 L247.69,161.62 L248.53,161.55 L249.36,161.48 L250.20,161.42 L251.04,161.36 L251.88,161.30 L252.73,161.25 L253.57,161.19 L254.41,161.14 L255.25,161.09 L256.10,161.05 L256.94,161.00 L257.79,160.96 L258.64,160.91 L259.48,160.87 L260.33,160.83 L261.18,160.79 L262.03,160.76 L262.88,160.72 L263.73,160.68 L264.58,160.65 L265.43,160.61 L266.28,160.57 L267.13,160.54 L267.99,160.51 L268.84,160.47 L269.69,160.44 L270.55,160.41 L271.40,160.38 L272.25,160.35 L273.11,160.33 L273.96,160.31 L274.81,160.29 L275.67,160.27 L276.52,160.25 L277.37,160.24 L278.22,160.23 L279.08,160.22 L279.93,160.22 L280.78,160.22 L281.62,160.23 L282.47,160.24 L283.32,160.25 L284.17,160.27 L285.01,160.29 L285.86,160.31 L286.70,160.35 L287.54,160.38 L288.38,160.42 L289.22,160.47 L290.06,160.52 L290.89,160.58 L291.73,160.65 L292.56,160.72 L293.39,160.80 L294.22,160.88 L295.05,160.97 L295.87,161.07 L296.69,161.18 L297.51,161.29 L298.33,161.41 L299.15,161.54 L299.96,161.68 L300.77,161.82 L301.58,161.97 L302.39,162.13 L303.19,162.30 L303.99,162.48 L304.79,162.67 L305.59,162.87 L306.38,163.08 L307.17,163.29 L307.95,163.52 L308.74,163.76 L309.52,164.00 L310.29,164.26 L311.07,164.53 L311.84,164.80 L312.60,165.09 L313.37,165.39 L314.13,165.71 L314.88,166.03 L315.63,166.36 L316.38,166.71 L317.12,167.07 L317.86,167.44 L318.60,167.83 L319.33,168.22 L320.06,168.63 L320.78,169.05 L321.50,169.49 L322.21,169.94 L322.92,170.40 L323.63,170.88 L324.33,171.37 L325.02,171.87 L325.71,172.39 L326.40,172.93 L327.08,173.48 L327.75,174.04 L328.43,174.62 L329.09,175.21 L329.75,175.82 L330.41,176.45" fill="none" stroke="#7fbd6e" stroke-width="1.00" stroke-linejoin="round"/>
<path d="M199.78,183.09 L200.46,182.61 L201.14,182.15 L201.83,181.71 L202.54,181.29 L203.25,180.89 L203.98,180.51 L204.71,180.15 L205.46,179.80 L206.21,179.47 L206.97,179.16 L207.74,178.86 L208.51,178.58 L209.29,178.31 L210.08,178.05 L210.87,177.80 L211.67,177.57 L212.47,177.35 L213.28,177.13 L214.09,176.93 L214.91,176.73 L215.73,176.54 L216.55,176.36 L217.37,176.18 L218.20,176.01 L219.02,175.84 L219.85,175.68 L220.68,175.52 L221.51,175.36 L222.34,175.21 L223.16,175.06 L223.99,174.91 L224.82,174.76 L225.65,174.62 L226.48,174.48 L227.31,174.34 L228.14,174.20 L228.97,174.07 L229.81,173.94 L230.64,173.81 L231.47,173.68 L232.30,173.55 L233.13,173.43 L233.97,173.31 L234.80,173.19 L235.63,173.07 L236.47,172.96 L237.30,172.84 L238.14,172.73 L238.97,172.62 L239.80,172.51 L240.64,172.41 L241.47,172.30 L242.31,172.20 L243.15,172.09 L243.98,171.99 L244.82,171.89 L245.65,171.79 L246.49,171.70 L247.33,171.60 L248.16,171.50 L249.00,171.41 L249.84,171.32 L250.68,171.22 L251.51,171.13 L252.35,171.04 L253.19,170.95 L254.03,170.86 L254.87,170.77 L255.70,170.69 L256.54,170.60 L257.38,170.51 L258.22,170.42 L259.06,170.34 L259.90,170.25 L260.74,170.17 L261.58,170.08 L262.42,170.00 L263.26,169.91 L264.10,169.82 L264.94,169.74 L265.78,169.65 L266.62,169.57 L267.46,169.48 L268.30,169.40 L269.14,169.31 L269.98,169.22 L270.82,169.13 L271.66,169.05 L272.50,168.96 L273.34,168.87 L274.18,168.78 L275.02,168.68 L275.86,168.59 L276.70,168.49 L277.53,168.40 L278.37,168.30 L279.21,168.20 L280.05,168.10 L280.89,167.99 L281.73,167.89 L282.56,167.78 L283.40,167.67 L284.24,167.56 L285.07,167.45 L285.91,167.33 L286.75,167.21 L287.58,167.09 L288.42,166.97 L289.25,166.84 L290.08,166.71 L290.92,166.58 L291.75,166.44 L292.58,166.30 L293.41,166.16 L294.24,166.01 L295.07,165.86 L295.90,165.71 L296.73,165.55 L297.56,165.39 L298.39,165.23 L299.21,165.06 L300.04,164.89 L300.86,164.71 L301.69,164.53 L302.51,164.35 L303.33,164.16 L304.15,163.96 L304.97,163.76 L305.79,163.56 L306.61,163.35 L307.43,163.14 L308.25,162.92 L309.06,162.70 L309.87,162.46 L310.68,162.23 L311.49,161.98 L312.29,161.72 L313.09,161.46 L313.88,161.18 L314.66,160.90 L315.44,160.60 L316.21,160.29 L316.97,159.96 L317.73,159.62 L318.47,159.27 L319.20,158.90 L319.92,158.51 L320.63,158.10 L321.33,157.68 L322.02,157.24 L322.69,156.78 L323.34,156.29 L323.99,155.79 L324.61,155.26 L325.22,154.71 L325.81,154.14 L326.39,153.54 L326.94,152.92 L327.48,152.27 L328.00,151.59 L328.49,150.89 L328.97,150.16 L329.42,149.40 L329.85,148.61 L330.26,147.78" fill="none" stroke="#d44853" stroke-width="1.00" stroke-linejoin="round"/>
<path d="M200.21,186.49 L200.13,187.33 L200.06,188.17 L200.02,189.03 L199.99,189.88 L199.99,190.73 L200.01,191.59 L200.06,192.44 L200.13,193.29 L200.24,194.12 L200.37,194.95 L200.54,195.77 L200.75,196.58 L200.99,197.37 L201.27,198.14 L201.59,198.90 L201.95,199.63 L202.35,200.34 L202.79,201.03 L203.26,201.71 L203.77,202.37 L204.30,203.01 L204.85,203.63 L205.43,204.25 L206.04,204.85 L206.65,205.43 L207.29,206.01 L207.93,206.58 L208.58,207.14 L209.24,207.69 L209.90,208.24 L210.57,208.78 L211.24,209.31 L211.91,209.83 L212.59,210.33 L213.28,210.82 L213.97,211.27 L214.69,211.70 L215.41,212.10 L216.15,212.46 L216.90,212.80 L217.66,213.12 L218.43,213.41 L219.21,213.70 L219.99,213.98 L220.77,214.25 L221.55,214.53 L222.34,214.80 L223.12,215.07 L223.91,215.34 L224.70,215.61 L225.49,215.87 L226.28,216.13 L227.08,216.40 L227.87,216.66 L228.67,216.91 L229.46,217.17 L230.26,217.42 L231.06,217.68 L231.86,217.93 L232.66,218.17 L233.47,218.42 L234.27,218.67 L235.07,218.91 L235.88,219.15 L236.69,219.39 L237.49,219.62 L238.30,219.86 L239.11,220.09 L239.92,220.32 L240.73,220.55 L241.54,220.78 L242.36,221.00 L243.17,221.22 L243.98,221.44 L244.80,221.66 L245.61,221.87 L246.43,222.09 L247.24,222.30 L248.06,222.51 L248.88,222.71 L249.69,222.92 L250.51,223.12 L251.33,223.32 L252.15,223.51 L252.96,223.71 L253.78,223.90 L254.60,224.09 L255.42,224.28 L256.24,224.46 L257.06,224.65 L257.88,224.83 L258.70,225.00 L259.52,225.18 L260.34,225.35 L261.16,225.52 L261.98,225.69 L262.80,225.85 L263.62,226.02 L264.44,226.17 L265.26,226.33 L266.09,226.48 L266.91,226.64 L267.73,226.78 L268.55,226.93 L269.38,227.07 L270.20,227.21 L271.02,227.34 L271.85,227.48 L272.67,227.61 L273.50,227.73 L274.32,227.86 L275.15,227.98 L275.97,228.09 L276.80,228.21 L277.63,228.32 L278.45,228.42 L279.28,228.53 L280.11,228.63 L280.94,228.72 L281.76,228.82 L282.59,228.91 L283.42,228.99 L284.25,229.08 L285.08,229.15 L285.92,229.23 L286.75,229.30 L287.58,229.37 L288.41,229.43 L289.24,229.49 L290.08,229.55 L290.91,229.60 L291.75,229.65 L292.58,229.70 L293.42,229.74 L294.26,229.77 L295.09,229.81 L295.93,229.84 L296.77,229.86 L297.61,229.88 L298.45,229.90 L299.29,229.91 L300.13,229.92 L300.97,229.92 L301.81,229.92 L302.66,229.91 L303.50,229.91 L304.35,229.89 L305.19,229.87 L306.04,229.85 L306.88,229.82 L307.73,229.79 L308.58,229.76 L309.43,229.71 L310.28,229.67 L311.13,229.62 L311.98,229.56 L312.83,229.50 L313.69,229.44 L314.54,229.37 L315.39,229.29 L316.25,229.22 L317.10,229.14 L317.95,229.07 L318.80,229.01 L319.64,228.96 L320.48,228.94 L321.31,228.93 L322.13,228.96 L322.94,229.01 L323.74,229.11 L324.52,229.24 L325.29,229.42 L326.04,229.66 L326.78,229.94 L327.50,230.29 L328.20,230.70 L328.88,231.17 L329.53,231.72 L330.16,232.35" fill="none" stroke="#b44a9a" stroke-width="1.00" stroke-linejoin="round"/>
<line x1="211.90" y1="143.90" x2="220.00" y2="143.90" stroke="#3f55a0" stroke-width="1.20"/>
<text x="222.5" y="145.60" font-family="Liberation Serif, serif" font-style="italic" font-size="5.6" fill="#5a5a5a">τ<tspan font-size="3.8" dy="0.9">x</tspan></text>
<line x1="211.90" y1="149.90" x2="220.00" y2="149.90" stroke="#cc3a40" stroke-width="1.20"/>
<text x="222.5" y="151.60" font-family="Liberation Serif, serif" font-style="italic" font-size="5.6" fill="#5a5a5a">τ<tspan font-size="3.8" dy="0.9">b</tspan></text>
<line x1="211.90" y1="155.90" x2="220.00" y2="155.90" stroke="#6fae5c" stroke-width="1.20"/>
<text x="222.5" y="157.60" font-family="Liberation Serif, serif" font-style="italic" font-size="5.6" fill="#5a5a5a">τ<tspan font-size="3.8" dy="0.9">w</tspan></text>
<line x1="211.90" y1="161.90" x2="220.00" y2="161.90" stroke="#b060b8" stroke-width="1.20"/>
<text x="222.5" y="163.60" font-family="Liberation Serif, serif" font-style="italic" font-size="5.6" fill="#5a5a5a">τ<tspan font-size="3.8" dy="0.9">d</tspan></text>
<text x="0.80" y="267.50" font-size="8.0" font-weight="bold" fill="#1a1a1a">e</text>
<line x1="22.50" y1="271.00" x2="22.50" y2="375.00" stroke="#b3d0ea" stroke-width="1.00"/>
<line x1="22.50" y1="375.00" x2="152.40" y2="375.00" stroke="#bdbdbd" stroke-width="1.00"/>
<line x1="152.40" y1="270.60" x2="152.40" y2="375.00" stroke="#f1c6b5" stroke-width="1.00"/>
<line x1="22.50" y1="271.00" x2="23.90" y2="271.00" stroke="#b3d0ea" stroke-width="0.70"/>
<text x="20.40" y="273.10" text-anchor="end" font-size="5.90" fill="#4a8fc9" stroke="#4a8fc9" stroke-width="0.05" >400</text>
<line x1="22.50" y1="291.80" x2="23.90" y2="291.80" stroke="#b3d0ea" stroke-width="0.70"/>
<text x="20.40" y="293.90" text-anchor="end" font-size="5.90" fill="#4a8fc9" stroke="#4a8fc9" stroke-width="0.05" >300</text>
<line x1="22.50" y1="312.60" x2="23.90" y2="312.60" stroke="#b3d0ea" stroke-width="0.70"/>
<text x="20.40" y="314.70" text-anchor="end" font-size="5.90" fill="#4a8fc9" stroke="#4a8fc9" stroke-width="0.05" >200</text>
<line x1="22.50" y1="333.40" x2="23.90" y2="333.40" stroke="#b3d0ea" stroke-width="0.70"/>
<text x="20.40" y="335.50" text-anchor="end" font-size="5.90" fill="#4a8fc9" stroke="#4a8fc9" stroke-width="0.05" >100</text>
<line x1="22.50" y1="354.20" x2="23.90" y2="354.20" stroke="#b3d0ea" stroke-width="0.70"/>
<text x="20.40" y="356.30" text-anchor="end" font-size="5.90" fill="#4a8fc9" stroke="#4a8fc9" stroke-width="0.05" >0</text>
<line x1="22.50" y1="375.00" x2="23.90" y2="375.00" stroke="#b3d0ea" stroke-width="0.70"/>
<text x="20.40" y="377.10" text-anchor="end" font-size="5.90" fill="#4a8fc9" stroke="#4a8fc9" stroke-width="0.05" >-100</text>
<line x1="151.00" y1="270.60" x2="152.40" y2="270.60" stroke="#f1c6b5" stroke-width="0.70"/>
<text x="154.80" y="272.70" text-anchor="start" font-size="5.90" fill="#dd8262" stroke="#dd8262" stroke-width="0.05" >120</text>
<line x1="151.00" y1="285.50" x2="152.40" y2="285.50" stroke="#f1c6b5" stroke-width="0.70"/>
<text x="154.80" y="287.60" text-anchor="start" font-size="5.90" fill="#dd8262" stroke="#dd8262" stroke-width="0.05" >118</text>
<line x1="151.00" y1="300.40" x2="152.40" y2="300.40" stroke="#f1c6b5" stroke-width="0.70"/>
<text x="154.80" y="302.50" text-anchor="start" font-size="5.90" fill="#dd8262" stroke="#dd8262" stroke-width="0.05" >116</text>
<line x1="151.00" y1="315.30" x2="152.40" y2="315.30" stroke="#f1c6b5" stroke-width="0.70"/>
<text x="154.80" y="317.40" text-anchor="start" font-size="5.90" fill="#dd8262" stroke="#dd8262" stroke-width="0.05" >114</text>
<line x1="151.00" y1="330.20" x2="152.40" y2="330.20" stroke="#f1c6b5" stroke-width="0.70"/>
<text x="154.80" y="332.30" text-anchor="start" font-size="5.90" fill="#dd8262" stroke="#dd8262" stroke-width="0.05" >112</text>
<line x1="151.00" y1="345.10" x2="152.40" y2="345.10" stroke="#f1c6b5" stroke-width="0.70"/>
<text x="154.80" y="347.20" text-anchor="start" font-size="5.90" fill="#dd8262" stroke="#dd8262" stroke-width="0.05" >110</text>
<line x1="151.00" y1="360.00" x2="152.40" y2="360.00" stroke="#f1c6b5" stroke-width="0.70"/>
<text x="154.80" y="362.10" text-anchor="start" font-size="5.90" fill="#dd8262" stroke="#dd8262" stroke-width="0.05" >108</text>
<line x1="151.00" y1="374.90" x2="152.40" y2="374.90" stroke="#f1c6b5" stroke-width="0.70"/>
<text x="154.80" y="377.00" text-anchor="start" font-size="5.90" fill="#dd8262" stroke="#dd8262" stroke-width="0.05" >106</text>
<line x1="22.50" y1="373.60" x2="22.50" y2="375.00" stroke="#bdbdbd" stroke-width="0.70"/>
<text x="22.50" y="382.60" text-anchor="middle" font-size="5.90" fill="#484848" stroke="#484848" stroke-width="0.05" >0</text>
<line x1="51.88" y1="373.60" x2="51.88" y2="375.00" stroke="#bdbdbd" stroke-width="0.70"/>
<text x="51.88" y="382.60" text-anchor="middle" font-size="5.90" fill="#484848" stroke="#484848" stroke-width="0.05" >50</text>
<line x1="81.25" y1="373.60" x2="81.25" y2="375.00" stroke="#bdbdbd" stroke-width="0.70"/>
<text x="81.25" y="382.60" text-anchor="middle" font-size="5.90" fill="#484848" stroke="#484848" stroke-width="0.05" >100</text>
<line x1="110.62" y1="373.60" x2="110.62" y2="375.00" stroke="#bdbdbd" stroke-width="0.70"/>
<text x="110.62" y="382.60" text-anchor="middle" font-size="5.90" fill="#484848" stroke="#484848" stroke-width="0.05" >150</text>
<line x1="140.00" y1="373.60" x2="140.00" y2="375.00" stroke="#bdbdbd" stroke-width="0.70"/>
<text x="140.00" y="382.60" text-anchor="middle" font-size="5.90" fill="#484848" stroke="#484848" stroke-width="0.05" >200</text>
<text x="87.50" y="390.20" text-anchor="middle" font-size="6.30" fill="#484848" stroke="#484848" stroke-width="0.05" >x, km</text>
<text transform="translate(5.0,323) rotate(-90)" text-anchor="middle" font-size="6.3" fill="#4a8fc9">τ<tspan font-size="4.2" dy="1.1">x</tspan><tspan dy="-1.1">, Pa</tspan></text>
<text transform="translate(170.60,322.90) rotate(-90)" text-anchor="middle" font-size="6.30" fill="#dd8262">τ, MPa m</text>
<path d="M22.54,272.21 L23.39,272.40 L24.24,272.59 L25.08,272.80 L25.91,273.02 L26.73,273.26 L27.55,273.51 L28.36,273.77 L29.17,274.04 L29.96,274.32 L30.75,274.62 L31.54,274.93 L32.32,275.24 L33.09,275.57 L33.85,275.91 L34.62,276.26 L35.37,276.62 L36.12,276.99 L36.86,277.37 L37.60,277.75 L38.34,278.15 L39.07,278.55 L39.79,278.97 L40.51,279.39 L41.22,279.82 L41.94,280.25 L42.64,280.70 L43.34,281.15 L44.04,281.61 L44.74,282.07 L45.43,282.54 L46.11,283.02 L46.80,283.50 L47.48,283.99 L48.16,284.49 L48.83,284.99 L49.50,285.49 L50.17,286.00 L50.84,286.51 L51.50,287.03 L52.16,287.55 L52.82,288.07 L53.48,288.60 L54.14,289.13 L54.79,289.66 L55.44,290.19 L56.10,290.73 L56.74,291.27 L57.39,291.81 L58.04,292.35 L58.69,292.90 L59.33,293.44 L59.98,293.99 L60.62,294.53 L61.27,295.08 L61.91,295.63 L62.55,296.17 L63.20,296.72 L63.84,297.27 L64.48,297.81 L65.12,298.36 L65.76,298.91 L66.40,299.46 L67.04,300.01 L67.68,300.56 L68.32,301.11 L68.96,301.66 L69.59,302.22 L70.23,302.77 L70.87,303.32 L71.50,303.87 L72.14,304.43 L72.77,304.98 L73.41,305.53 L74.04,306.09 L74.67,306.64 L75.31,307.20 L75.94,307.76 L76.57,308.31 L77.20,308.87 L77.83,309.43 L78.46,309.98 L79.09,310.54 L79.72,311.10 L80.35,311.66 L80.98,312.22 L81.61,312.78 L82.23,313.34 L82.86,313.90 L83.49,314.46 L84.11,315.03 L84.74,315.59 L85.36,316.15 L85.98,316.71 L86.61,317.28 L87.23,317.84 L87.85,318.41 L88.47,318.97 L89.09,319.54 L89.72,320.10 L90.34,320.67 L90.95,321.24 L91.57,321.81 L92.19,322.37 L92.81,322.94 L93.43,323.51 L94.04,324.08 L94.66,324.65 L95.28,325.22 L95.89,325.79 L96.51,326.36 L97.12,326.93 L97.73,327.51 L98.35,328.08 L98.96,328.65 L99.57,329.23 L100.18,329.80 L100.79,330.38 L101.40,330.95 L102.01,331.53 L102.62,332.10 L103.23,332.68 L103.84,333.26 L104.44,333.83 L105.05,334.41 L105.66,334.99 L106.26,335.57 L106.87,336.15 L107.47,336.73 L108.08,337.31 L108.68,337.89 L109.28,338.47 L109.88,339.05 L110.49,339.64 L111.09,340.22 L111.69,340.80 L112.29,341.39 L112.89,341.97 L113.50,342.55 L114.10,343.13 L114.71,343.71 L115.31,344.29 L115.92,344.87 L116.54,345.44 L117.15,346.01 L117.77,346.59 L118.39,347.15 L119.02,347.72 L119.64,348.28 L120.28,348.84 L120.91,349.40 L121.56,349.96 L122.20,350.51 L122.86,351.05 L123.51,351.59 L124.18,352.13 L124.85,352.67 L125.53,353.19 L126.21,353.72 L126.90,354.24 L127.60,354.75 L128.30,355.26 L129.02,355.76 L129.74,356.25 L130.47,356.74 L131.21,357.22 L131.96,357.69 L132.71,358.14 L133.46,358.57 L134.23,358.98 L134.99,359.37 L135.75,359.72 L136.52,360.03 L137.28,360.31 L138.05,360.54 L138.81,360.73 L139.56,360.87 L140.31,360.95 L141.06,360.98 L141.79,360.94 L142.52,360.84 L143.23,360.68 L143.92,360.45 L144.60,360.15 L145.24,359.80 L145.86,359.37 L146.44,358.88 L146.98,358.32 L147.48,357.70 L147.94,357.00 L148.35,356.25 L148.70,355.42 L148.99,354.53 L149.22,353.57 L149.39,352.54 L149.48,351.45 L149.49,350.29" fill="none" stroke="#cf6a45" stroke-width="1.10" stroke-linejoin="round"/>
<path d="M22.70,328.20 L22.71,329.05 L22.73,329.89 L22.75,330.74 L22.78,331.58 L22.81,332.42 L22.85,333.26 L22.89,334.10 L22.94,334.94 L22.99,335.78 L23.05,336.61 L23.10,337.45 L23.16,338.28 L23.23,339.12 L23.29,339.95 L23.36,340.79 L23.42,341.62 L23.49,342.45 L23.56,343.29 L23.62,344.12 L23.69,344.96 L23.75,345.79 L23.81,346.62 L23.87,347.46 L23.93,348.29 L23.99,349.13 L24.04,349.97 L24.08,350.81 L24.13,351.65 L24.18,352.50 L24.23,353.35 L24.29,354.22 L24.35,355.10 L24.43,355.99 L24.52,356.90 L24.67,357.79 L24.91,358.60 L25.30,359.28 L25.87,359.79 L26.59,360.17 L27.39,360.46 L28.20,360.74 L29.01,361.01 L29.83,361.27 L30.64,361.53 L31.45,361.78 L32.27,362.02 L33.08,362.26 L33.90,362.50 L34.71,362.73 L35.53,362.95 L36.34,363.17 L37.16,363.38 L37.98,363.59 L38.79,363.79 L39.61,363.99 L40.43,364.18 L41.24,364.37 L42.06,364.55 L42.88,364.73 L43.70,364.90 L44.52,365.07 L45.34,365.23 L46.16,365.39 L46.98,365.55 L47.80,365.70 L48.62,365.85 L49.44,365.99 L50.26,366.13 L51.08,366.26 L51.90,366.39 L52.73,366.52 L53.55,366.64 L54.37,366.76 L55.20,366.88 L56.02,366.99 L56.84,367.10 L57.67,367.21 L58.50,367.31 L59.32,367.41 L60.15,367.50 L60.98,367.59 L61.80,367.68 L62.63,367.77 L63.46,367.86 L64.29,367.94 L65.12,368.02 L65.95,368.09 L66.78,368.16 L67.61,368.24 L68.44,368.30 L69.28,368.37 L70.11,368.44 L70.94,368.50 L71.78,368.56 L72.61,368.62 L73.45,368.67 L74.28,368.73 L75.12,368.78 L75.96,368.83 L76.79,368.88 L77.63,368.93 L78.47,368.97 L79.31,369.02 L80.15,369.06 L80.99,369.10 L81.83,369.14 L82.68,369.18 L83.52,369.22 L84.36,369.26 L85.21,369.30 L86.05,369.34 L86.90,369.37 L87.74,369.41 L88.59,369.44 L89.44,369.48 L90.29,369.51 L91.14,369.54 L91.99,369.58 L92.84,369.61 L93.69,369.65 L94.54,369.68 L95.39,369.71 L96.25,369.75 L97.10,369.78 L97.96,369.81 L98.81,369.85 L99.67,369.88 L100.53,369.92 L101.39,369.96 L102.24,369.99 L103.10,370.02 L103.96,370.06 L104.82,370.09 L105.68,370.11 L106.54,370.14 L107.39,370.15 L108.25,370.17 L109.10,370.17 L109.95,370.17 L110.80,370.17 L111.65,370.15 L112.50,370.13 L113.34,370.10 L114.18,370.05 L115.01,370.00 L115.85,369.93 L116.68,369.85 L117.50,369.76 L118.32,369.66 L119.14,369.54 L119.95,369.41 L120.76,369.26 L121.56,369.09 L122.36,368.91 L123.15,368.71 L123.93,368.49 L124.71,368.26 L125.49,368.00 L126.25,367.72 L127.01,367.42 L127.76,367.10 L128.51,366.76 L129.25,366.39 L129.98,366.00 L130.70,365.59 L131.41,365.15 L132.11,364.69 L132.80,364.21 L133.48,363.70 L134.14,363.18 L134.79,362.63 L135.42,362.06 L136.03,361.48 L136.63,360.87 L137.20,360.25 L137.75,359.61 L138.29,358.95 L138.79,358.27 L139.28,357.58 L139.74,356.88 L140.17,356.15 L140.57,355.42 L140.95,354.67 L141.30,353.90 L141.62,353.13 L141.91,352.34 L142.19,351.54 L142.44,350.74 L142.67,349.92 L142.89,349.10 L143.09,348.28 L143.28,347.44 L143.45,346.61 L143.62,345.77 L143.77,344.92 L143.92,344.08 L144.07,343.24 L144.21,342.40 L144.35,341.55 L144.49,340.72 L144.63,339.88 L144.78,339.05 L144.93,338.22 L145.09,337.40 L145.24,336.58 L145.40,335.76 L145.56,334.95 L145.71,334.13 L145.87,333.32 L146.02,332.51 L146.16,331.69 L146.31,330.88 L146.45,330.06 L146.58,329.25 L146.71,328.43 L146.82,327.61 L146.93,326.78 L147.03,325.95 L147.12,325.12 L147.20,324.28 L147.27,323.44 L147.32,322.59 L147.36,321.73 L147.38,320.87 L147.39,320.00" fill="none" stroke="#4086c2" stroke-width="1.10" stroke-linejoin="round"/>
<path d="M147.40,320.00 L149.30,283.30" fill="none" stroke="#4086c2" stroke-width="1.10" stroke-linejoin="round" />
<text x="179.80" y="266.60" font-size="8.0" font-weight="bold" fill="#1a1a1a">f</text>
<line x1="200.50" y1="271.00" x2="200.50" y2="375.00" stroke="#b3d0ea" stroke-width="1.00"/>
<line x1="200.50" y1="375.00" x2="330.30" y2="375.00" stroke="#bdbdbd" stroke-width="1.00"/>
<line x1="330.30" y1="270.20" x2="330.30" y2="375.00" stroke="#f1c6b5" stroke-width="1.00"/>
<line x1="200.50" y1="271.03" x2="201.90" y2="271.03" stroke="#b3d0ea" stroke-width="0.70"/>
<text x="198.40" y="273.13" text-anchor="end" font-size="5.90" fill="#4a8fc9" stroke="#4a8fc9" stroke-width="0.05" >250</text>
<line x1="200.50" y1="285.88" x2="201.90" y2="285.88" stroke="#b3d0ea" stroke-width="0.70"/>
<text x="198.40" y="287.98" text-anchor="end" font-size="5.90" fill="#4a8fc9" stroke="#4a8fc9" stroke-width="0.05" >200</text>
<line x1="200.50" y1="300.74" x2="201.90" y2="300.74" stroke="#b3d0ea" stroke-width="0.70"/>
<text x="198.40" y="302.84" text-anchor="end" font-size="5.90" fill="#4a8fc9" stroke="#4a8fc9" stroke-width="0.05" >150</text>
<line x1="200.50" y1="315.59" x2="201.90" y2="315.59" stroke="#b3d0ea" stroke-width="0.70"/>
<text x="198.40" y="317.69" text-anchor="end" font-size="5.90" fill="#4a8fc9" stroke="#4a8fc9" stroke-width="0.05" >100</text>
<line x1="200.50" y1="330.44" x2="201.90" y2="330.44" stroke="#b3d0ea" stroke-width="0.70"/>
<text x="198.40" y="332.55" text-anchor="end" font-size="5.90" fill="#4a8fc9" stroke="#4a8fc9" stroke-width="0.05" >50</text>
<line x1="200.50" y1="345.30" x2="201.90" y2="345.30" stroke="#b3d0ea" stroke-width="0.70"/>
<text x="198.40" y="347.40" text-anchor="end" font-size="5.90" fill="#4a8fc9" stroke="#4a8fc9" stroke-width="0.05" >0</text>
<line x1="200.50" y1="360.16" x2="201.90" y2="360.16" stroke="#b3d0ea" stroke-width="0.70"/>
<text x="198.40" y="362.26" text-anchor="end" font-size="5.90" fill="#4a8fc9" stroke="#4a8fc9" stroke-width="0.05" >-50</text>
<line x1="200.50" y1="375.01" x2="201.90" y2="375.01" stroke="#b3d0ea" stroke-width="0.70"/>
<text x="198.40" y="377.11" text-anchor="end" font-size="5.90" fill="#4a8fc9" stroke="#4a8fc9" stroke-width="0.05" >-100</text>
<line x1="328.90" y1="270.20" x2="330.30" y2="270.20" stroke="#f1c6b5" stroke-width="0.70"/>
<text x="332.70" y="272.30" text-anchor="start" font-size="5.90" fill="#dd8262" stroke="#dd8262" stroke-width="0.05" >132</text>
<line x1="328.90" y1="285.20" x2="330.30" y2="285.20" stroke="#f1c6b5" stroke-width="0.70"/>
<text x="332.70" y="287.30" text-anchor="start" font-size="5.90" fill="#dd8262" stroke="#dd8262" stroke-width="0.05" >130</text>
<line x1="328.90" y1="300.20" x2="330.30" y2="300.20" stroke="#f1c6b5" stroke-width="0.70"/>
<text x="332.70" y="302.30" text-anchor="start" font-size="5.90" fill="#dd8262" stroke="#dd8262" stroke-width="0.05" >128</text>
<line x1="328.90" y1="315.20" x2="330.30" y2="315.20" stroke="#f1c6b5" stroke-width="0.70"/>
<text x="332.70" y="317.30" text-anchor="start" font-size="5.90" fill="#dd8262" stroke="#dd8262" stroke-width="0.05" >126</text>
<line x1="328.90" y1="330.20" x2="330.30" y2="330.20" stroke="#f1c6b5" stroke-width="0.70"/>
<text x="332.70" y="332.30" text-anchor="start" font-size="5.90" fill="#dd8262" stroke="#dd8262" stroke-width="0.05" >124</text>
<line x1="328.90" y1="345.20" x2="330.30" y2="345.20" stroke="#f1c6b5" stroke-width="0.70"/>
<text x="332.70" y="347.30" text-anchor="start" font-size="5.90" fill="#dd8262" stroke="#dd8262" stroke-width="0.05" >122</text>
<line x1="328.90" y1="360.20" x2="330.30" y2="360.20" stroke="#f1c6b5" stroke-width="0.70"/>
<text x="332.70" y="362.30" text-anchor="start" font-size="5.90" fill="#dd8262" stroke="#dd8262" stroke-width="0.05" >120</text>
<line x1="328.90" y1="375.20" x2="330.30" y2="375.20" stroke="#f1c6b5" stroke-width="0.70"/>
<text x="332.70" y="377.30" text-anchor="start" font-size="5.90" fill="#dd8262" stroke="#dd8262" stroke-width="0.05" >118</text>
<line x1="200.50" y1="373.60" x2="200.50" y2="375.00" stroke="#bdbdbd" stroke-width="0.70"/>
<text x="200.50" y="382.60" text-anchor="middle" font-size="5.90" fill="#484848" stroke="#484848" stroke-width="0.05" >0</text>
<line x1="232.82" y1="373.60" x2="232.82" y2="375.00" stroke="#bdbdbd" stroke-width="0.70"/>
<text x="232.82" y="382.60" text-anchor="middle" font-size="5.90" fill="#484848" stroke="#484848" stroke-width="0.05" >200</text>
<line x1="265.14" y1="373.60" x2="265.14" y2="375.00" stroke="#bdbdbd" stroke-width="0.70"/>
<text x="265.14" y="382.60" text-anchor="middle" font-size="5.90" fill="#484848" stroke="#484848" stroke-width="0.05" >400</text>
<line x1="297.46" y1="373.60" x2="297.46" y2="375.00" stroke="#bdbdbd" stroke-width="0.70"/>
<text x="297.46" y="382.60" text-anchor="middle" font-size="5.90" fill="#484848" stroke="#484848" stroke-width="0.05" >600</text>
<line x1="329.78" y1="373.60" x2="329.78" y2="375.00" stroke="#bdbdbd" stroke-width="0.70"/>
<text x="329.78" y="382.60" text-anchor="middle" font-size="5.90" fill="#484848" stroke="#484848" stroke-width="0.05" >800</text>
<text x="265.00" y="390.20" text-anchor="middle" font-size="6.30" fill="#484848" stroke="#484848" stroke-width="0.05" >x, km</text>
<text transform="translate(183.0,323) rotate(-90)" text-anchor="middle" font-size="6.3" fill="#4a8fc9">τ<tspan font-size="4.2" dy="1.1">x</tspan><tspan dy="-1.1">, Pa</tspan></text>
<text transform="translate(348.40,322.90) rotate(-90)" text-anchor="middle" font-size="6.30" fill="#dd8262">τ, MPa m</text>
<path d="M200.80,272.01 L201.59,272.31 L202.38,272.62 L203.15,272.93 L203.93,273.26 L204.69,273.60 L205.45,273.95 L206.21,274.31 L206.96,274.68 L207.71,275.06 L208.46,275.44 L209.20,275.83 L209.93,276.23 L210.67,276.64 L211.40,277.05 L212.13,277.47 L212.85,277.89 L213.57,278.32 L214.29,278.75 L215.01,279.19 L215.73,279.63 L216.44,280.07 L217.16,280.51 L217.87,280.96 L218.58,281.41 L219.30,281.86 L220.01,282.31 L220.72,282.76 L221.43,283.21 L222.14,283.66 L222.86,284.11 L223.57,284.55 L224.29,285.00 L225.00,285.44 L225.72,285.88 L226.44,286.31 L227.16,286.74 L227.89,287.17 L228.62,287.59 L229.35,288.00 L230.08,288.41 L230.82,288.82 L231.56,289.21 L232.30,289.60 L233.05,289.98 L233.80,290.36 L234.56,290.72 L235.32,291.07 L236.09,291.42 L236.86,291.75 L237.64,292.08 L238.42,292.39 L239.21,292.69 L240.01,292.98 L240.81,293.26 L241.62,293.52 L242.43,293.77 L243.25,294.01 L244.07,294.23 L244.90,294.43 L245.73,294.62 L246.56,294.79 L247.40,294.95 L248.23,295.08 L249.07,295.20 L249.91,295.29 L250.75,295.37 L251.59,295.42 L252.43,295.46 L253.26,295.47 L254.09,295.46 L254.93,295.42 L255.75,295.36 L256.58,295.27 L257.40,295.16 L258.21,295.03 L259.02,294.86 L259.83,294.67 L260.63,294.45 L261.42,294.20 L262.20,293.92 L262.98,293.62 L263.75,293.28 L264.52,292.93 L265.28,292.55 L266.03,292.16 L266.78,291.75 L267.53,291.33 L268.28,290.89 L269.02,290.45 L269.77,290.01 L270.51,289.57 L271.26,289.12 L272.01,288.68 L272.76,288.25 L273.51,287.82 L274.27,287.41 L275.03,287.01 L275.79,286.62 L276.57,286.26 L277.34,285.92 L278.12,285.60 L278.91,285.31 L279.69,285.05 L280.48,284.82 L281.27,284.63 L282.07,284.47 L282.86,284.35 L283.66,284.28 L284.45,284.25 L285.25,284.26 L286.04,284.33 L286.83,284.43 L287.62,284.58 L288.41,284.77 L289.19,285.00 L289.96,285.27 L290.72,285.57 L291.47,285.91 L292.21,286.27 L292.94,286.67 L293.65,287.09 L294.35,287.53 L295.03,288.00 L295.69,288.49 L296.34,289.01 L296.97,289.54 L297.58,290.09 L298.18,290.65 L298.76,291.24 L299.32,291.85 L299.88,292.47 L300.41,293.10 L300.94,293.75 L301.44,294.42 L301.94,295.10 L302.42,295.79 L302.89,296.49 L303.35,297.21 L303.80,297.94 L304.23,298.68 L304.66,299.42 L305.07,300.18 L305.47,300.95 L305.87,301.72 L306.25,302.50 L306.63,303.28 L306.99,304.08 L307.35,304.87 L307.70,305.67 L308.04,306.48 L308.38,307.28 L308.71,308.09 L309.03,308.90 L309.35,309.72 L309.66,310.53 L309.97,311.34 L310.27,312.15 L310.56,312.96 L310.86,313.77 L311.14,314.57 L311.43,315.38 L311.71,316.18 L311.98,316.99 L312.25,317.79 L312.52,318.59 L312.78,319.39 L313.04,320.20 L313.30,320.99 L313.56,321.79 L313.81,322.59 L314.05,323.39 L314.30,324.19 L314.54,324.98 L314.78,325.78 L315.01,326.58 L315.25,327.37 L315.48,328.17 L315.71,328.97 L315.93,329.76 L316.16,330.56 L316.38,331.35 L316.60,332.15 L316.82,332.94 L317.04,333.74 L317.25,334.54 L317.47,335.33 L317.68,336.13 L317.89,336.93 L318.10,337.73 L318.31,338.53 L318.52,339.32 L318.73,340.12 L318.94,340.93 L319.15,341.73 L319.36,342.53 L319.56,343.33 L319.77,344.14 L319.98,344.94 L320.19,345.75 L320.39,346.55 L320.60,347.36 L320.81,348.17 L321.02,348.98 L321.23,349.79 L321.44,350.61 L321.65,351.42 L321.86,352.24 L322.08,353.05 L322.29,353.87 L322.51,354.70 L322.73,355.52 L322.95,356.34 L323.17,357.17 L323.39,358.00 L323.62,358.83 L323.85,359.66 L324.08,360.49 L324.31,361.33" fill="none" stroke="#cf6a45" stroke-width="1.10" stroke-linejoin="round"/>
<path d="M324.30,361.30 L326.00,357.50" fill="none" stroke="#cf6a45" stroke-width="1.10" stroke-linejoin="round" />
<path d="M200.40,324.50 L200.90,344.50 L201.60,347.20" fill="none" stroke="#4086c2" stroke-width="1.10" stroke-linejoin="round" />
<path d="M201.60,347.20 L202.23,347.78 L202.91,348.25 L203.64,348.61 L204.41,348.88 L205.22,349.07 L206.04,349.20 L206.90,349.27 L207.76,349.31 L208.63,349.31 L209.51,349.31 L210.38,349.30 L211.24,349.29 L212.09,349.29 L212.94,349.29 L213.78,349.30 L214.62,349.30 L215.45,349.31 L216.28,349.31 L217.11,349.32 L217.93,349.32 L218.76,349.31 L219.59,349.31 L220.41,349.29 L221.24,349.27 L222.07,349.25 L222.91,349.22 L223.74,349.18 L224.57,349.14 L225.41,349.09 L226.24,349.03 L227.08,348.97 L227.92,348.91 L228.75,348.83 L229.59,348.76 L230.43,348.67 L231.26,348.58 L232.10,348.49 L232.94,348.39 L233.77,348.28 L234.61,348.17 L235.44,348.05 L236.27,347.93 L237.11,347.80 L237.94,347.66 L238.77,347.52 L239.59,347.37 L240.42,347.22 L241.24,347.07 L242.06,346.90 L242.89,346.74 L243.71,346.57 L244.52,346.39 L245.34,346.21 L246.16,346.03 L246.97,345.85 L247.79,345.67 L248.61,345.48 L249.42,345.29 L250.24,345.11 L251.05,344.92 L251.87,344.73 L252.68,344.55 L253.50,344.36 L254.32,344.18 L255.14,344.00 L255.96,343.82 L256.78,343.64 L257.60,343.47 L258.43,343.30 L259.25,343.14 L260.08,342.98 L260.91,342.83 L261.74,342.68 L262.57,342.55 L263.41,342.43 L264.24,342.33 L265.08,342.25 L265.91,342.19 L266.74,342.15 L267.58,342.15 L268.41,342.17 L269.24,342.23 L270.07,342.33 L270.89,342.45 L271.71,342.61 L272.54,342.79 L273.36,342.99 L274.17,343.21 L274.99,343.45 L275.80,343.69 L276.61,343.95 L277.42,344.21 L278.23,344.46 L279.04,344.72 L279.84,344.97 L280.65,345.21 L281.45,345.44 L282.25,345.66 L283.05,345.88 L283.84,346.10 L284.64,346.32 L285.43,346.54 L286.22,346.76 L287.01,346.99 L287.79,347.24 L288.57,347.49 L289.35,347.76 L290.13,348.05 L290.91,348.35 L291.68,348.67 L292.45,349.01 L293.22,349.37 L293.98,349.74 L294.74,350.12 L295.49,350.52 L296.24,350.93 L296.99,351.35 L297.73,351.79 L298.46,352.23 L299.19,352.69 L299.91,353.15 L300.63,353.63 L301.34,354.11 L302.04,354.59 L302.74,355.09 L303.42,355.59 L304.11,356.09 L304.78,356.60 L305.44,357.11 L306.10,357.62 L306.75,358.14 L307.39,358.65 L308.02,359.17 L308.64,359.69 L309.25,360.20 L309.84,360.71 L310.43,361.22 L311.02,361.73 L311.59,362.25 L312.17,362.78 L312.74,363.32 L313.32,363.88 L313.90,364.46 L314.49,365.07 L315.08,365.71 L315.70,366.39 L316.32,367.11 L316.97,367.87 L317.63,368.67 L318.30,369.46 L318.96,370.15 L319.61,370.66 L320.21,370.91 L320.77,370.84 L321.27,370.44 L321.72,369.81 L322.12,369.06 L322.48,368.28 L322.80,367.49 L323.09,366.69 L323.34,365.88 L323.55,365.07 L323.74,364.26 L323.91,363.43 L324.05,362.61 L324.17,361.78 L324.27,360.94 L324.35,360.11 L324.42,359.27 L324.48,358.42 L324.53,357.58 L324.58,356.74 L324.62,355.90 L324.66,355.05 L324.70,354.21 L324.74,353.37 L324.78,352.53 L324.82,351.69 L324.86,350.84 L324.90,350.00 L324.93,349.16 L324.97,348.32 L325.01,347.48 L325.04,346.64 L325.07,345.80 L325.11,344.96 L325.14,344.12 L325.17,343.28 L325.20,342.45 L325.23,341.61 L325.26,340.77 L325.29,339.93 L325.32,339.09 L325.34,338.26 L325.37,337.42 L325.40,336.58 L325.42,335.74 L325.45,334.91 L325.47,334.07 L325.49,333.23 L325.52,332.40 L325.54,331.56 L325.56,330.72 L325.58,329.89 L325.60,329.05 L325.62,328.22 L325.64,327.38 L325.66,326.54 L325.68,325.71 L325.70,324.87 L325.71,324.04 L325.73,323.20 L325.75,322.37 L325.76,321.53 L325.78,320.69 L325.79,319.86 L325.81,319.02 L325.82,318.19 L325.83,317.35 L325.85,316.52 L325.86,315.68 L325.87,314.85 L325.88,314.01 L325.89,313.17 L325.90,312.34 L325.91,311.50 L325.92,310.67 L325.93,309.83 L325.94,309.00 L325.95,308.16 L325.96,307.32 L325.97,306.49 L325.98,305.65 L325.98,304.81 L325.99,303.98 L326.00,303.14 L326.01,302.30 L326.01,301.47 L326.02,300.63 L326.02,299.79 L326.03,298.95 L326.03,298.12 L326.04,297.28 L326.04,296.44 L326.05,295.60 L326.05,294.76 L326.06,293.92 L326.06,293.09 L326.06,292.25 L326.07,291.41 L326.07,290.57 L326.07,289.73 L326.08,288.89 L326.08,288.05 L326.08,287.20 L326.08,286.36 L326.09,285.52 L326.09,284.68 L326.09,283.84 L326.09,283.00" fill="none" stroke="#4086c2" stroke-width="1.10" stroke-linejoin="round"/>
</g>
</svg>
</body></html>
